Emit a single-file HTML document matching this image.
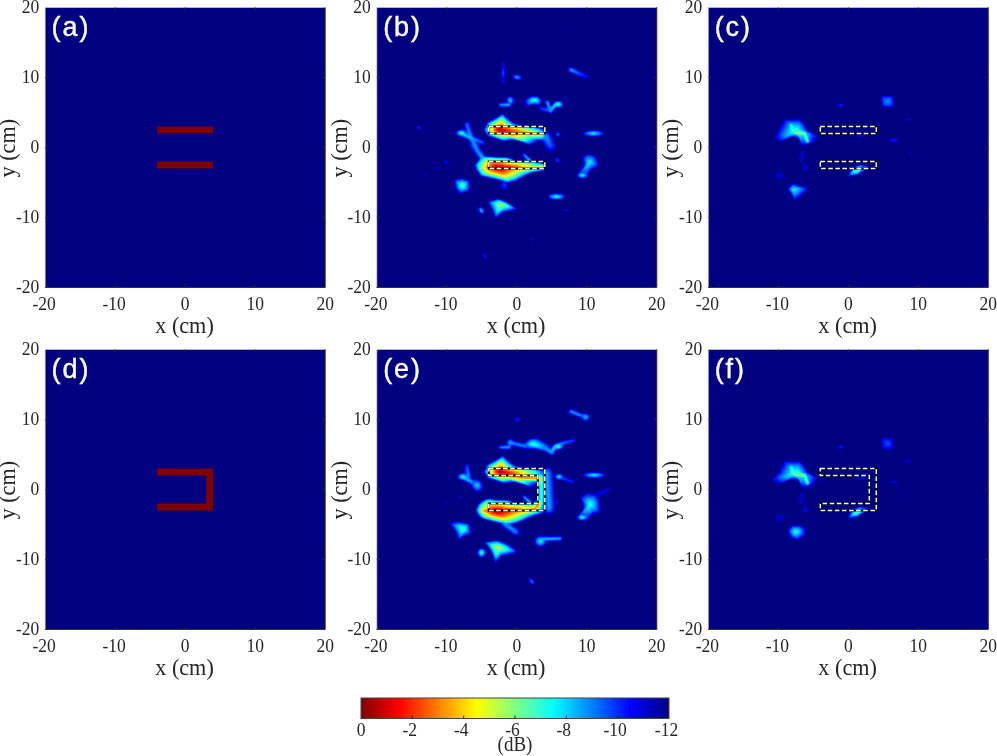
<!DOCTYPE html>
<html lang="en"><head><meta charset="utf-8"><title>Figure</title>
<style>html,body{margin:0;padding:0;background:#fff;}svg{display:block;}.t{font-family:"Liberation Serif",serif;font-size:17.5px;fill:#262626;}.l{font-family:"Liberation Serif",serif;font-size:22.2px;fill:#262626;}.p{font-family:"Liberation Sans",sans-serif;font-size:27px;letter-spacing:1.9px;fill:#fff;stroke:#fff;stroke-width:0.4px;}</style></head><body>
<svg width="997" height="756" viewBox="0 0 997 756">
<defs><linearGradient id="cb" x1="0" x2="1" y1="0" y2="0"><stop offset="0" stop-color="#800000"/><stop offset="0.125" stop-color="#ff0000"/><stop offset="0.375" stop-color="#ffff00"/><stop offset="0.5" stop-color="#80ff80"/><stop offset="0.625" stop-color="#00ffff"/><stop offset="0.875" stop-color="#0000ff"/><stop offset="1" stop-color="#000080"/></linearGradient></defs>
<rect width="997" height="756" fill="#fff"/>
<g>
<rect x="45.2" y="7.5" width="280" height="280" fill="#000080"/>
<path d="M157.2 126.5h56v7h-56zM157.2 161.5h56v7h-56z" fill="#800000"/>
<path d="M45.2 287.5v-280.0h280.0" fill="none" stroke="#d8d8d0" stroke-width="0.6"/>
<path d="M44.9 287.5h280.3v-280.3" fill="none" stroke="#2a2a30" stroke-width="0.9"/>
<path d="M115.2 287.5v-3M115.2 7.5v3M45.2 217.5h3M325.2 217.5h-3M185.2 287.5v-3M185.2 7.5v3M45.2 147.5h3M325.2 147.5h-3M255.2 287.5v-3M255.2 7.5v3M45.2 77.5h3M325.2 77.5h-3" stroke="#262626" stroke-width="1" fill="none"/>
<text class="t" transform="translate(44.2 309.5) scale(1.000 1.100)" text-anchor="middle">-20</text>
<text class="t" transform="translate(39.2 292.7) scale(1.000 1.100)" text-anchor="end">-20</text>
<text class="t" transform="translate(114.2 309.5) scale(1.000 1.100)" text-anchor="middle">-10</text>
<text class="t" transform="translate(39.2 222.7) scale(1.000 1.100)" text-anchor="end">-10</text>
<text class="t" transform="translate(185.2 309.5) scale(1.000 1.100)" text-anchor="middle">0</text>
<text class="t" transform="translate(39.2 152.7) scale(1.000 1.100)" text-anchor="end">0</text>
<text class="t" transform="translate(255.2 309.5) scale(1.000 1.100)" text-anchor="middle">10</text>
<text class="t" transform="translate(39.2 82.7) scale(1.000 1.100)" text-anchor="end">10</text>
<text class="t" transform="translate(325.2 309.5) scale(1.000 1.100)" text-anchor="middle">20</text>
<text class="t" transform="translate(39.2 12.7) scale(1.000 1.100)" text-anchor="end">20</text>
<text class="l" transform="translate(184.5 332.7) scale(1.000 1.060)" text-anchor="middle">x (cm)</text>
<text class="l" transform="translate(15.2 148.2) rotate(-90) scale(1.000 1.060)" text-anchor="middle">y (cm)</text>
<text class="p" transform="translate(51.6 36.4)" text-anchor="start">(a)</text>
</g>
<g>
<rect x="376.8" y="7.5" width="280" height="280" fill="#000080"/>
<g fill-rule="evenodd"><path fill="#0000bd" d="M571.4 28.5l0.1-0.5 0.8-0.5 1 0.4 0.2 0.6 -0.4 0.5 -0.8 0.3zM508.8 48.9l1 0.3 0.3 0.8 -0.8 1.1 -1-0.2 -0.4-0.9 0.4-0.9zM503.3 62.1l1.1 0.4 0.8 1.5 0.5 9 -0.5 9 -0.8 1.5 -1.1 0.4 -1-0.2 -0.7-0.7 -0.8-3.1 -2.5-0.4 -0.9-1 0.9-1 2.5-0.6 0.4-12.9 0.6-1.3zM568 68.5l0.8-1.1 1.5-0.8 1.5 0 15.5 7.4 1.3 1.5 0 2 -1.3 1.4 -2 0.3 -16-6.6 -1-0.9 -0.5-1.7zM511.9 76l0.6-1 1.3-0.8 2-0.4 1.5 0 2 0.6 1.5 0.8 1.3 1.3 0.3 1.5 -0.6 1.2 -1.5 1 -2 0.4 -2.5-0.2 -1.5-0.6 -1.7-1.3 -0.6-1zM535 84.5l0.8-0.6 0.7 0.1 0.5 0.5 -0.2 0.6 -1 0.2 -0.7-0.3zM513.9 97.5l0.8 2 -0.3 2.5 -0.8 1.5 -1.5 1.5 -0.7 1.5 -1.1 1 -2 0.4 -7.5-0.3 -1.5-0.3 -1.2-1.3 -0.2-2 1.4-1.6 1.5-0.4 4.2 0 0.8-0.4 0.1-2.1 0.6-1.5 1.8-2 1.5-0.5 1.5 0.1 1.5 0.7zM523.9 101l0.9-1.4 5-3.5 7.5-0.5 1.5 0.7 3.1 3.7 -1.2 5.5 0.4 0.5 3.7 0.7 0.6-0.2 -1.1-3.5 0.1-1.5 0.9-1.4 1.5-0.7 1.5 0.2 1 0.7 2 3.5 0.5 0.1 2-2.1 1.5-1 3.5-0.7 2 0.5 1.6 0.9 1.2 1.5 0.2 1.5 -0.2 1 -1.3 1.7 -2.5 1.1 -3.5 0.4 -2 2.2 -1.2 2.1 -1.3 0.8 -1 0.1 -11-3.4 -1.1-1.5 0-1 0.6-1.5 -0.5-0.5 -5.5-1.1 -5 1.8 -1.5 0 -1.1-1.7zM562.7 98.5l0.6-1 1.5-0.4 1.8 0.4 0.7 1 -0.7 1 -1.8 0.4 -1.5-0.4zM483.5 129l3-6 0.8-1 8.3-4.5 5.7-3.8 1.5-0.5 1 0.5 6 5.8 5 3.5 1.9 1 23.6 3.3 5 1.2 1.7 2 2.8 2.1 1.2 1.4 4.7 10 0.4 2 -0.2 1.5 -1.1 2.1 -2 1.5 -2 0.5 -2.5-0.4 -2.2-1.7 -4.4-8 -1.4-0.7 -1.3 0.2 -7.2 4.4 -1 0.3 -4.5-1.4 -5.6-2.3 -5.9-1.2 -3-0.1 -5.5 0.9 -3.5 0.1 -15.5-5.3 -1-0.9 -2.3-4 -0.6-1.5zM455.6 132l1.2-1.7 2-1.1 2-0.4 3 0.1 0.5-0.4 -0.8-4 0.6-2 1.7-1.3 2.5 0 1.2 0.8 0.9 1.5 4 12 9.4 4.2 1.4 1.3 0.3 2 -0.3 1 -0.9 1 -1.5 0.6 -2.5-0.4 -0.6 0.3 2.6 5.1 4 5.2 6 0.3 2 0.4 14 0.2 7.5 3.2 9.5 0.6 0.3-0.5 -3.3-3.5 -0.7-1.5 0.1-1 0.6-1 1-0.6 1-0.1 2 1.1 7.5 7.3 5 0.4 6 2.3 1.4 2.1 0.3 1.5 -0.1 1.5 -1.6 1.9 -1.5 0.8 -8.9 1.3 -9.2 4 -7.4 4.2 -8.6 2.8 -0.5 0.5 -0.3 3 -1.1 1.9 -2 1.1 -2.5-0.3 -1.5-1.3 -0.9-1.9 0-2 1-2.5 -0.4-0.5 -8.8-2.5 -10.9-2.2 -1.4-0.8 -4.3-6 -1.4-4.5 0.2-1 3.4-4.5 0.4-1 -8.5-12 -0.6-1.5 0.3-2.5 -0.6-1.4 -2-1.6 -5.2-2.5 -2.8-0.7 -1.5-0.8 -1.7-2zM415.6 127l0.2-0.6 1-0.7 2.5 0 2.1 1.3 0.4 1.5 -0.5 0.7 -1 0.4 -2 0 -2-1.1zM582.4 133.5l0.9-1.6 2.5-1.2 3-0.6 4.5-0.3 5 0.3 3 0.6 2.5 1.3 0.8 1.5 -1.1 1.5 -2.7 1.2 -3.5 0.7 -4 0.2 -3.5-0.2 -3.5-0.7 -2.8-1.2zM555 133l1.8-1.3 2.5 0.2 1.5 1.6 0.2 1 -0.3 1 -0.8 1 -1.1 0.6 -1.5 0.1 -1-0.3 -1.1-0.9 -0.5-1zM571.3 139.5l0.5-0.2 0.8 0.2 0.4 0.5 -0.2 1 -1 0.3 -0.5-0.2 -0.3-0.6zM594.3 154.7l1.2 1.3 4 8.5 -0.1 1.5 -7.1 3.9 -2.5 1.8 -1.1 1.8 -0.5 3 -1.9 1.8 -2 0.6 -2.5 0.2 -2-0.4 -2-1.1 -1.3-1.6 0.1-1.5 6.8-8.5 -0.1-3.5 -1.3-5 0.3-0.9 4.5-2.9 1-0.3zM554.5 158l0.8-0.6 1.5-0.1 2.5 1.2 1.4 2 0.1 1 -0.5 1 -1 0.6 -1 0 -2.5-1.1 -1.5-2 -0.1-1zM444.3 160.5l1.5-0.6 1.5 0.3 1 1.3 -0.2 1.5 -0.8 0.8 -1 0.3 -1.5-0.3 -1.1-1.3 0-1zM432.5 168.5l1.3-0.9 2.5-0.3 2.5 0.3 1.3 0.9 -1.3 0.9 -2.5 0.3 -2.5-0.3zM424.8 174.3l1-0.3 1 0.7 0.2 0.8 -0.7 1.1 -1 0.2 -0.9-0.8 -0.1-1zM454.3 179.5l1-0.5 6.5-1.3 5.5 1.6 2.5 1.1 0.4 1.1 0 3 -0.5 2.5 0 3.5 -0.4 0.9 -7.5 2.4 -1.5 0.1 -1-0.5 -3.4-3.4 -0.5-1 -1.4-8zM547.2 196.5l0.8-1.5 2.3-1.3 3-0.7 3-0.2 3.5 0.2 3 0.7 2.2 1.3 0.8 1.5 -0.6 1.5 -1.9 1.3 -3.5 0.9 -3.5 0.3 -3.5-0.3 -3-0.9 -2-1.3zM487.4 202l1.9-1.2 8-2.5 1.5-0.1 9.5 4 8 5.5 1.1 1.3 -0.1 0.5 -4 1.3 -9.5 1.8 -7.5 5.8 -1 0.3 -1.2-1.7 -2.3-6.8 -4.3-7.2zM479.3 206.5l1-0.2 1.5 0.4 1.1 0.8 1.2 1.5 0.8 3 -0.4 1.5 -0.7 0.8 -1 0.4 -1.5-0.3 -1.5-1 -1.1-1.4 -0.7-2 -0.1-1.5 0.4-1zM563.5 209.5l0.8-0.7 1.5-0.1 1.7 0.8 0.5 1 -0.7 0.9 -2 0.2 -1.5-0.8 -0.4-0.8zM530.3 237.6l1.5 0.1 1.4 1.3 0.6 1.5 -0.5 0.8 -1.5-0.2 -1.3-1.1 -0.7-1.5zM481.5 253l0.8-0.5 1 0.2 2.5 1.6 1.8 2.7 -0.2 1.5 -0.6 0.4 -1-0.1 -2.5-1.6 -1.6-2.2 -0.3-1z"/><path fill="#0000e6" d="M503.3 63l1 1 0.9 9 -0.9 9 -1 1 -1-0.5 -1-9.5 1-9.5zM568.5 68.5l0.8-0.9 1-0.5 1-0.1 1.5 0.5 13.7 7 1.1 1 0.2 1.5 -1 1.2 -2 0 -14.5-5.6 -1-0.6 -0.8-1 -0.3-1.5zM512.4 76.5l0.5-1 0.9-0.7 1.5-0.5 2 0 2 0.6 1.5 0.9 0.9 1.2 0.1 1 -0.5 1 -1 0.7 -1.5 0.4 -2-0.1 -3-1.1 -1-1zM513.6 98l0.6 2 -0.3 2 -3.7 5 -1.9 0.4 -7.5-0.3 -1.5-0.4 -0.7-0.7 -0.3-1.5 1-1.6 1.5-0.4 4.5-0.1 1-0.3 0.5-3.6 1-1.5 1-0.7 2.5-0.2 1.5 0.9zM524.7 100.5l5.6-4.1 7-0.3 1 0.4 2.8 3 0.3 1 -0.9 4 -0.7 0.9 -6.5-1 -5.5 1.8 -0.7-0.2 -0.7-1 -1.7-3.5zM563.7 98.5l1.1-0.7 1 0.2 0.5 0.5 -0.5 0.5 -1 0.2zM539.3 109l0-1 1-1.2 5 0.6 0.8-0.4 -1.3-5 0.7-1.5 1.3-0.6 1 0 1 0.6 2.5 4.1 1-0.4 2.5-2.7 3-0.9 2 0.1 1.5 0.6 1.4 1.2 0.5 1 -0.1 2 -1.3 1.5 -2 0.9 -3.5 0.2 -2.3 2.4 -1.2 2.2 -1.5 0.7 -10.5-3 -1-0.6zM484 129l2.7-5.5 1.1-1.4 8.5-4.6 5.5-3.6 1-0.2 1 0.6 5.5 5.4 6.5 4.4 24.5 3.6 4.5 1.2 1.8 2.1 2.7 2 1.3 1.5 4.2 9.5 0.4 1.5 -0.1 1.5 -0.8 1.8 -1.5 1.3 -2 0.6 -2-0.3 -1.5-0.9 -0.8-1 -4.5-7.5 -1.7-0.7 -2.5 0.7 -7 4 -4-0.9 -6.7-2.6 -5.3-1.2 -3-0.1 -5.5 1 -3.5 0 -15.5-5.3 -3.1-4.9 -0.3-1zM456.1 132l1.2-1.5 2-1 5.5-0.2 0.1-0.8 -0.8-3.5 0.2-1.6 1.5-1.5 1-0.3 1.5 0.3 1 0.8 0.7 1.3 3.8 11.6 1.1 0.9 8.4 3.6 1.4 1.4 0.2 1.5 -1.1 1.6 -1.5 0.3 -3-0.6 -0.4 0.2 -0.1 0.5 2.8 5.5 4.1 5.5 9.1 0.8 13.5 0.3 7 3.1 10.6 0.8 0.7-0.5 -3.7-4 -0.8-1.5 0.4-1.5 0.8-0.6 1-0.1 2 1.2 7.2 7 4.8 0.4 6.5 2.5 1.2 2.1 0 2.5 -1.3 1.5 -1.4 0.8 -9.5 1.5 -8.5 3.7 -8.5 4.7 -8.5 2.6 -0.6 0.7 0.1 2 -0.8 2 -1.7 1.1 -2-0.1 -1.5-1.3 -0.6-1.7 0.1-1.7 1-1.8 -0.4-1 -8.1-2.5 -12.5-2.6 -1.3-0.9 -3.9-5.5 -1.4-4.5 0.9-2 3-4 0-1 -8.5-12 -0.4-1.5 0.3-2 -1.2-2.2 -1-0.8 -6-2.9 -3-0.8 -1.5-0.8 -1.2-1.5zM416.4 127l0.9-0.8 1.5-0.1 1.8 0.9 0.5 1 -0.8 1 -1.5 0.1 -2-0.9zM583.2 133.5l0.6-1.2 2.5-1.2 3.5-0.7 3.5-0.2 4 0.2 3.5 0.7 2.5 1.3 0.5 1.1 -1 1.3 -2.5 1 -3.5 0.7 -3.5 0.1 -3.5-0.2 -3.5-0.7 -2.5-1.2zM555.7 133l1.6-0.9 2 0.4 1.1 1.5 -0.3 1.5 -0.8 0.8 -1 0.4 -2-0.4 -0.8-0.8 -0.3-1zM594.3 155.4l1 1.6 3.3 7 0.2 1.5 -9 5.3 -1.7 2.7 -0.5 3 -1.3 1.2 -1.5 0.7 -2.5 0.3 -2.5-0.5 -1.5-0.8 -1.2-1.4 0.1-1.5 6.7-8.5 -0.1-3.5 -1.1-4.5 0.1-1 5-3zM555.1 158.5l0.7-0.5 1-0.1 2 0.9 1.3 1.7 -0.3 1.5 -1.5 0.5 -2-0.8 -1.3-1.7zM444.5 161.5l0.8-0.8 1-0.2 1 0.6 0.2 1.4 -0.7 0.8 -1.5 0 -0.8-0.8zM425.3 175.5l0.5-0.3 0.1 0.3zM454.7 180l1.1-0.6 6-1.1 7.3 2.2 0.5 1 0.1 2.5 -0.5 6 -0.4 1 -7 2.2 -1.5 0.1 -0.6-0.3 -3.8-4 -1.3-8zM547.9 196.5l0.4-1 2-1.3 3-0.8 3-0.2 3.5 0.2 2.5 0.7 2 1 0.8 1.4 -0.7 1.5 -2.1 1.2 -3 0.7 -3 0.2 -3.5-0.4 -2.5-0.7 -1.7-1zM488 202.5l0.3-0.7 1.5-0.7 7.5-2.3 1.5-0.2 9 3.7 7 4.9 1.7 1.8 -0.7 0.5 -12.5 2.7 -7 5.5 -1 0.2 -0.6-0.9 -2.4-6.9zM479.3 207.1l1-0.3 1 0.2 1 0.5 1.3 1.5 0.7 1.5 0.1 1.5 -0.5 1.5 -0.6 0.5 -1 0.2 -1-0.3 -2.1-1.9 -0.7-1.5 -0.2-1.5 0.3-1zM564.1 210l0.7-0.7 1 0 1 0.4 0.4 0.8 -0.5 0.5 -0.9 0.1 -1-0.3zM531 238.5l1.3 0.5 0.5 1 -0.5 0.4 -0.8-0.4 -0.7-1zM482.5 253.5l1.3 0.1 2 1.6 1 1.8 0 0.5 -0.5 0.5 -1.5-0.4 -1.5-1.3 -1.1-1.8z"/><path fill="#000fff" d="M568.8 68.9l0.6-0.9 0.9-0.5 2 0.2 10.9 5.8 2.9 2 0.5 1 -0.8 0.7 -2.5-0.4 -12.5-4.4 -1.9-1.4 -0.3-1zM503.3 68.1l1 1.7 0.4 3.2 -0.4 3.2 -1 1.7 -0.5-0.2 -0.5-0.9 -0.6-3.8 0.6-3.7zM513 76.5l0.6-1 0.9-0.5 1.8-0.3 1.5 0.1 2.5 1.2 0.8 1 0.1 1 -0.7 1 -1.1 0.5 -3.1 0 -2.5-1.2 -0.6-0.8zM513.3 98.4l0.5 1.6 -0.4 2 -2.1 2.5 -0.6 1.5 -0.9 0.8 -1.5 0.3 -7.5-0.4 -1-0.2 -1-1 0.1-1.5 0.9-0.9 6.9-0.6 0.3-3.5 0.8-1.4 1-0.8 1-0.3 1.5 0.1 1 0.6zM525.3 101l0.6-1 3.9-2.9 2.5-0.6 5.5 0.1 2.8 2.9 0.4 1 -0.9 3.5 -0.8 0.9 -6-0.8 -5 1.5 -1.2-0.6zM539.9 108.5l0.4-0.9 0.5-0.2 5 0.5 0.8-0.4 0-1 -1.5-4 0.5-1.5 1.2-0.7 1 0 1 0.7 1.8 3.5 0.7 0.7 1-0.5 2.5-2.8 3-1 2 0.2 1.5 0.6 1 0.9 0.6 1.4 -0.3 1.5 -0.8 1 -2 1 -3 0.1 -1 0.4 -2.2 2.5 -1.2 2 -1.1 0.5 -10-3 -1-0.6zM484.2 129.5l3.7-7 8.3-4.5 5.6-3.7 1-0.2 6.4 5.9 6.6 4.4 24 3.5 4.5 1.4 1.9 2.2 2.7 2 1.2 1.5 3.8 9.5 0.2 2.5 -0.9 1.5 -1.4 1 -1.5 0.2 -1.5-0.4 -1.5-1.4 -4.4-6.9 -2.1-0.9 -1.5-0.1 -1.8 0.5 -6.2 3.6 -1.5 0.4 -3-0.7 -7.6-2.8 -4.6-1 -3.3-0.1 -5 0.9 -3.5 0.1 -15-5.1 -0.8-0.8 -2.2-3.6zM456.6 132l1.2-1.4 2-0.9 2-0.1 3.6 0.4 0.2-1 -0.9-5 1.1-1.5 1-0.3 1 0.1 1 0.7 0.6 1 4.1 12 1.3 0.9 8 3.6 1.2 1 0.2 1.5 -0.9 1.1 -1.5 0.2 -3.6-0.8 -0.3 0.5 3.1 6.5 4.3 5.6 1 0.4 5.5 0.1 2.5 0.5 13.5 0.2 7.5 3.1 11 0.9 0.9-0.3 -0.1-0.5 -3.8-4.1 -0.8-1.4 0.3-1.2 0.5-0.4 1-0.2 2 1.3 7 6.7 5 0.6 6 2.1 1.4 2.1 0.2 1.5 -0.3 1 -1.3 1.5 -1 0.5 -9.6 1.5 -8.1 3.5 -8.8 4.7 -7 2.3 -2.8 0.5 -0.5 0.5 0.4 2 -0.4 1.5 -1.2 1.1 -1.5 0 -1.3-1.1 -0.4-1.5 0.4-1.5 1.3-1.5 -1.9-1.5 -7.6-2.2 -13-2.8 -0.8-0.5 -4.2-6 -1.2-4 0.9-2 3-4 0.1-1 -8.3-12 -0.4-1.5 0.1-2 -1.4-2.5 -1.3-1 -5.5-2.6 -3-0.8 -1.5-0.7 -1.2-1.4 -0.2-1zM417.3 127l1-0.3 1 0.2 0.8 0.6 0.1 0.5 -0.6 0.5 -1.3-0.1 -1-0.8zM584 133.5l0.5-1 2-1 2.8-0.7 4-0.2 4 0.2 3 0.6 2.2 1.1 0.5 1 -0.7 1 -2.4 1 -3.1 0.6 -3.5 0.2 -6.2-0.8 -2.3-1zM555.9 133.5l1.4-0.9 1.5 0.1 1 1.1 0 1.2 -1 1.1 -1 0.2 -1-0.2 -1-1.1zM593.8 155.8l1 1.3 3.2 6.9 0.1 1 -0.3 0.5 -6 3.1 -2 1.4 -2.2 3.5 -0.2 2.5 -1.5 1.5 -1.6 0.6 -2 0.2 -2-0.3 -1.5-0.7 -1.2-1.3 0-1.5 6.2-7.6 0.6-1.4 -0.1-3 -1-5 1.1-1 3.4-1.8zM555.7 159l1.1-0.5 1.5 0.5 1.1 1.5 -0.1 1 -1 0.4 -1.5-0.5 -1-1zM445.4 161.5l1.2 0 0.2 0.5 -0.2 0.5 -1.2 0 -0.2-0.5zM455.3 180.2l2-0.7 4.5-0.8 7 2.2 0.4 1.1 0 2.5 -0.7 6 -0.7 0.5 -7 1.8 -1-0.3 -3-3 -0.5-0.9 -1.2-7.6zM548.5 196.5l0.5-1 1.8-1.1 2.5-0.6 3-0.3 3 0.2 2.5 0.6 2 1.1 0.7 1.1 -0.3 1 -1.9 1.2 -3 0.8 -3 0.2 -3-0.3 -2.5-0.6 -2-1.3zM488.6 202.5l0.2-0.5 1.5-0.7 7-2.2 1.5-0.1 9 3.7 6.8 4.8 1 1 -0.1 0.5 -2.7 0.9 -9.5 1.9 -6 4.7 -1.5 0.8 -0.8-0.8 -2.5-7zM479.5 207.5l0.8-0.3 1 0.2 1.9 1.6 0.9 2.5 -0.1 1 -0.7 1 -1 0.3 -1-0.3 -1.7-1.5 -0.9-2.5 0.1-1zM565.3 210l0.6 0 -0.1 0.3zM483.3 255l0.5-0.5 1.4 1 0.5 1 -0.4 0.4 -0.9-0.4z"/><path fill="#0038ff" d="M569.2 69l1.1-1 2 0.1 7.9 4.4 3.1 2.5 -0.5 0.5 -3-0.5 -9-3.1 -1.5-1.1zM503.3 70l0.6 1 0.3 2 -0.3 2 -0.6 1 -0.5-0.3 -0.6-2.7 0.6-2.7zM513.7 76.5l0.6-0.8 1-0.5 2.5 0.1 2.3 1.2 0.4 1.5 -0.7 0.8 -1 0.4 -2.5-0.1 -2.1-1.1zM512.9 98.5l0.4 1.5 -0.2 1.5 -0.5 1 -1.6 1.5 -0.4 1.5 -0.8 0.9 -1.5 0.4 -7-0.4 -1.5-0.4 -0.5-0.5 0-1.4 1-0.8 5.5-0.1 1.5-0.5 0.2-0.7 -0.1-2.5 0.4-1.1 1-1 1-0.4 1.1 0 1.1 0.5zM526.1 101l0.6-1 4.1-2.9 1.5-0.3 5 0 2.4 2.2 0.8 1.5 -0.7 3 -1 1 -5-0.8 -5 1.3 -1.1-0.5zM540.8 108.5l1-0.5 4.5 0.5 0.9-0.5 -0.2-1.5 -1.5-4 0.3-1.1 1-0.7 1 0.1 0.9 0.7 1.7 3.5 0.9 0.8 1-0.6 2.5-2.9 2.5-1 2 0 1.5 0.5 1.3 1.2 0.4 1 -0.3 1.5 -1.4 1.3 -1.5 0.5 -2.5 0 -1 0.3 -2.3 2.4 -1.2 2.1 -1 0.5 -1 0 -9-3.4zM484.6 129.5l2.7-5.6 1-1.3 8-4.3 5.5-3.6 1-0.2 6 5.6 6.6 4.4 23.9 3.6 4.1 1.4 2.4 2.7 2.5 1.8 1 1.2 2.7 7.3 0.8 2.9 0 1.1 -0.5 1 -1 0.7 -1 0.1 -1-0.3 -1.5-1.6 -3.9-5.4 -1.1-0.7 -2-0.5 -4 0.3 -6 3.5 -1.5 0.4 -2.5-0.5 -8-2.8 -4.5-1 -3-0.1 -5.5 0.9 -3 0.1 -14.8-5.1 -3-4.5zM457.1 132l1.6-1.5 2.1-0.6 2 0.1 3.5 1.1 0-1.6 -1-5 0.4-1 0.6-0.5 1.4 0 1.1 1.2 3.7 10.8 0.8 1.5 9 4.5 1.1 1 0 1 -0.6 0.5 -1 0.1 -4-1 -1 0.4 0.1 0.5 3.7 7.5 4 5 0.7 0.5 9.5 0.8 13 0.3 7.5 3.1 11.5 0.8 0.9-0.5 -0.2-0.5 -4-4.5 -0.5-1 0.2-1 1.1-0.3 2 1.3 7 6.5 5 0.6 6 2.1 1.1 1.8 0.1 2 -1 1.5 -1.2 0.8 -10.5 1.7 -7.5 3.2 -9 4.8 -8 2.4 -2.5-0.3 -4.5-1.7 -7-1.9 -13-2.8 -0.8-0.7 -3.7-5.3 -1.4-4.2 0.9-1.9 3.1-4.1 0.2-1 -8-12 -0.5-1 0-2.5 -1.8-3 -1-0.7 -6-2.8 -3-0.7 -1.4-0.8 -1-1.5zM585 133.5l0.6-1 2.2-1 5.5-0.6 5.7 0.6 2.4 1 0.6 1 -0.9 1 -1.8 0.7 -6 0.7 -6-0.8 -1.4-0.6zM556.3 134l0.5-0.7 1-0.3 1.2 0.5 0.4 1 -0.6 1 -1.5 0.2 -0.9-0.7zM593.3 156.4l1 1.2 2.5 5.4 0.5 1.5 -0.2 0.5 -5.3 2.8 -2 1.4 -2.5 3.8 -0.4 3 -1.1 1.1 -1.5 0.7 -2 0.2 -2-0.4 -1.3-0.6 -0.9-1 0-1.5 6-7.5 0.7-1.5 0.2-2 -1-5 0.3-1 3-1.9 1-0.3zM556.6 159.5l1.2 0 0.5 0.5 0 1 -0.8 0 -0.7-0.4zM455.9 180.5l5.9-1.3 6.5 2 0.4 0.8 0 2 -0.6 6 -0.8 0.6 -6.5 1.6 -1-0.4 -3-3.3 -1.2-7zM503.8 184.5l1-0.2 0.5 0.3 0.4 0.9 -0.5 1 -0.9 0.2 -0.5-0.2 -0.5-1zM549.2 196.5l0.6-1 2-1 4.5-0.6 4.9 0.6 2 1 0.6 1 -0.4 1 -1.6 1 -2.5 0.6 -3 0.3 -5.1-0.9 -1.6-1zM489.2 202.5l1.6-1 7-2.2 1.5 0.1 8 3.4 5.5 3.7 2 2 -0.5 0.5 -11 2.3 -6 4.7 -1.5 0.5 -0.5-0.6 -2.2-6.4 -3.6-6zM479.8 207.8l1.5 0 1.8 1.7 0.6 2.5 -0.9 1.3 -1.5-0.2 -1.6-1.6 -0.6-2 0.1-1z"/><path fill="#0061ff" d="M569.7 69l1.1-0.7 1.5 0.4 4.9 2.8 2.2 2 -2.1 0 -6.5-2.1 -1.1-0.9zM514.5 76.5l1.3-0.8 1.5-0.1 2 0.9 0.5 1 -1 1.1 -2 0.2 -1.7-0.8 -0.5-0.5zM512.5 99l0.3 1 -0.2 1.5 -0.7 1 -1.5 1 -0.2 2 -0.9 0.8 -8-0.3 -1.5-0.6 -0.2-0.9 0.7-0.7 6.5-0.3 1.5-0.5 -0.5-3.1 0.5-1.3 1-0.9 1-0.2 1 0.2zM527.3 100.5l2-1.9 2-1.2 5-0.3 1.5 0.5 1.7 1.9 0.4 1 -0.5 2.5 -0.6 0.8 -1 0.1 -4-0.6 -4.5 1.1 -1.1-0.9 -0.9-2zM544.5 109.5l2.8-0.4 0.7-0.6 -2.1-6 0.4-1 0.5-0.3 1 0 0.5 0.4 2 4.1 1 0.7 1-0.7 2.5-3 2-0.9 1.5-0.2 1.5 0.2 1.4 0.7 0.7 1 0.1 1.5 -0.7 1 -2 0.9 -3.5 0.3 -4.5 5 -1-0.1zM485.1 129.5l3.2-6.5 8-4.3 5.5-3.6 1-0.1 5.9 5.5 6.1 4.1 2 0.5 22.9 3.4 2.6 1.1 2 1.8 1.5 2.1 2 1.3 0.9 1.2 1.9 6.5 0.4 3.5 -0.7 0.5 -0.5-0.2 -5-5.9 -2-0.8 -4-0.2 -3 0.4 -5.5 3.2 -1.5 0.5 -2-0.3 -8-2.7 -5-1.1 -2.5-0.1 -5.5 0.9 -3.5-0.1 -14-4.8 -2.9-4.3zM457.4 132.5l1.4-1.6 3-0.7 2.5 0.7 2 1.9 1 0.3 0.2-1.1 -1.4-7 0.2-0.8 0.5-0.4 1 0.3 4.8 12.4 0.7 0.7 6.4 3.3 2.1 1.5 -1 0.3 -4.5-0.7 -0.5 0.1 -0.1 0.8 3.8 8 4.4 5.5 0.9 0.6 1.5 0.4 5.5 0.1 3 0.4 12.5 0.3 8 3 11.5 0.9 1-0.2 0.3-0.5 -4.4-5.5 -0.1-1 0.7-0.3 2 1.3 7 6.2 4.5 0.6 6 1.9 1.4 1.8 0.1 2 -1 1.4 -1 0.6 -11 1.9 -8 3.4 -8 4.2 -7.9 2.5 -2.1-0.3 -12-3.4 -12.6-2.8 -0.9-0.7 -3.4-4.8 -1.6-4.5 1-2 3.1-4 0.2-1.5 -7.8-11.9 -0.3-2.6 -2-3.5 -1.2-0.9 -6.5-2.9 -3.7-1.2 -1-1zM586.2 133.5l0.6-1 1.1-0.5 5.4-0.8 3.5 0.3 2.3 0.5 1.1 0.5 0.6 1 -1 1 -1.4 0.5 -5.1 0.6 -4.7-0.6 -1.4-0.5zM557 134.5l0.1-0.5 0.7-0.3 0.7 0.3 0.1 0.5 -0.8 0.6zM592.8 157.1l1 1.3 2.1 4.6 0.1 1.5 -5.2 2.9 -1.5 1.4 -2 3 -1.5 1.2 0.7 2 -0.2 1 -0.5 0.6 -1.5 0.8 -1.5 0.2 -3.1-0.6 -1-1 0-1.5 2.1-1.8 2.1-0.7 -1-1 0-0.5 2.6-3.5 0.9-2 0.2-1.5 -0.7-5 1.1-1 2.3-1.2zM456.5 181l5.3-1.2 5.9 1.7 0.4 1 -0.5 7 -0.8 0.6 -5 1.4 -1 0 -0.9-0.5 -2.1-2 -0.5-1 -1-5.5zM550.1 196.5l0.7-1 1-0.6 4.5-0.7 4.5 0.6 1.4 0.7 0.7 1 -0.4 1 -1.7 0.9 -4.5 0.6 -4.5-0.8 -1.3-0.7zM490.1 202.5l1.9-1 4.8-1.5 2.5-0.3 7.8 3.3 5.2 3.5 1.6 1.5 -0.1 0.4 -1.5 0.6 -9 1.8 -6 4.6 -1 0.4 -0.7-0.8 -1.9-5.5 -3.4-6zM480.3 208.1l1.5 0.4 1 1.1 0.6 1.9 -0.6 1.2 -1.5 0 -1.5-1.6 -0.3-2.1z"/><path fill="#008aff" d="M570.2 69.5l0.6-0.6 1 0.1 2.4 1.5 1.1 1.1 -1 0.2 -3.1-0.8 -0.8-0.5zM515.4 77l0.4-0.6 1.5-0.2 1 0.4 0.5 0.9 -0.5 0.5 -1.5 0.2 -1-0.5zM528.3 100.5l1-1.1 2.5-1.6 4-0.3 1.8 0.5 1.3 1.5 0.4 1 -0.5 2 -0.5 0.7 -4.5-0.3 -3.5 0.8 -1.1-0.7 -0.8-1.5zM509.8 98.2l1.5 0.2 0.9 1.6 -0.4 1.7 -1.5 0.8 -1.3-0.5 -0.6-1.5 0.3-1.5zM546.5 102.5l0.3-0.7 0.5-0.1 0.6 0.3 2.2 4.5 0.7 0.7 1-0.3 3.1-3.9 2.4-1 1.5-0.1 1.7 0.6 0.9 1 0.2 1 -0.4 1 -1.4 0.9 -4 0.4 -2.9 2.7 -1.5 2 -0.6 0.2 -2.2-1.2 0.1-2zM500.4 105l0.1-0.5 0.8-0.3 7.5-0.4 0.6 0.2 0.5 1 -0.6 0.8 -1 0.2 -6.9-0.5zM485.5 129.5l2.3-4.9 1.1-1.6 6.9-3.6 6.5-4 1 0.5 5 4.8 6 4 2 0.6 19.1 2.7 4.5 1 3.8 2.5 2.1 3.5 1.6 1 0.9 2.5 0.5 3 -0.5 0.6 -4-3.8 -2.5 0.8 -7 0.3 -5.5 3.2 -1.5 0.4 -9-2.7 -5.5-1.3 -3 0 -4.5 0.8 -3 0.1 -14.3-4.9 -2.6-4zM458 132.5l1.5-1.5 2.8-0.3 2.1 0.8 1.9 2.2 1 0.5 1 0 0.2-1.2 -0.7-4.5 0.2-0.5 0.3 0 3.9 9 4.4 3 -1.9 0.5 -0.3 1 3.7 8.5 5 6 1.2 0.8 2 0.4 5.5 0.1 3 0.5 12.5 0.2 7.5 3 12 0.9 1.5-0.4 0.3-0.5 -4.1-5.5 0.3-0.3 4 2.8 4 3.7 4.5 0.8 6.5 1.9 1.1 1.6 0.1 2 -0.7 1.1 -1.5 0.9 -8.5 1.1 -3 0.8 -8 3.4 -7.5 3.9 -7.5 2.4 -1.5-0.1 -8-2.4 -17-4 -3.9-5.1 -1.6-4.5 0.6-1.5 3.9-5 0-1 -6-9.9 -2.1-5.1 -2.9-4 -7-3.1 -3.5-1 -1.1-0.9zM587.6 133.5l0.2-0.5 1.5-0.8 4-0.6 4 0.4 1.3 0.5 0.8 1 -0.3 0.5 -1.8 0.7 -4 0.5 -4-0.6 -1.4-0.6zM592 158l0.8 0.7 2 4.3 0 1 -4.5 2.6 -3 3.5 -1.5 0.1 -2-0.6 0-1.1 1.1-1.5 1.3-3 -0.2-5 2.3-1.5zM579.2 175l1.1-1.3 2.5-0.6 2.5 0.9 0.6 1.5 -1.1 1.2 -2.5 0.6 -2.5-0.8 -0.5-0.6zM457.2 181.5l4.6-1.1 5.3 1.6 0.4 1 0 1.5 -0.7 4.7 -5 1.5 -1.5-0.2 -2-2 -0.5-0.9 -0.9-5.1zM551.1 196.5l0.7-0.9 1-0.5 3.5-0.6 3.7 0.5 1.1 0.5 0.8 1 -0.5 1 -0.9 0.5 -4.2 0.7 -3.8-0.7 -0.9-0.5zM491 203l0.1-0.5 1.2-0.7 5.5-1.7 1.5-0.1 7.2 3 5.8 4 0.5 1 -1 0.6 -9 1.9 -4.5 3.5 -1.5 0.8 -0.9-0.8 -1.7-5zM480.3 208.8l1-0.1 1.3 1.3 0.3 1.5 -0.6 0.8 -1-0.1 -1.1-1.2 -0.3-1.5z"/><path fill="#00b2ff" d="M529.5 100.5l2.8-2.3 3-0.3 1.3 0.1 0.7 0.5 1.2 2 -0.4 1.5 -0.8 0.6 -3-0.2 -3 0.6 -1.1-0.5zM509.8 99l1 0 0.5 0.5 0.2 1 -0.7 1.1 -1 0 -0.6-0.6 -0.1-1zM560.8 103.5l0.2 1 -0.7 1.2 -1.5 0.6 -3 0 -5 4.4 -0.5-0.2 -0.5-2.6 1 0.5 0.5-0.2 4-5.1 2-0.7 1.5-0.1 1 0.3zM504.9 105l3.4-0.6 0.8 0.6 -0.8 0.5zM486 129.5l2.3-4.9 1-1.4 6.5-3.4 5.5-3.6 1-0.3 1 0.6 4.7 4.5 5.3 3.7 3 0.8 16.5 2.3 5.6 1.2 3.9 2 1.4 1 0.9 1.5 0.3 2 -0.8 1.5 -2.3 1.5 -8.4 0.5 -5.6 3.2 -1.5 0.1 -10.5-3 -3.5-0.7 -2.5 0 -6.5 1 -1.5-0.3 -12.6-4.3 -0.9-0.8 -1.5-2.4zM458.6 132.5l1-1 1.2-0.4 2.5 0.3 1.8 2.1 1.7 1.2 2 0.9 1.5-0.2 2.6 3.6 -0.1 0.6 -0.5 0.6 -2.5-2 -7-2.8 -3-0.8 -1.2-1.1zM589.2 133.5l0.2-0.5 0.9-0.5 3-0.4 3.4 0.4 0.9 0.5 0.2 0.5 -0.5 0.5 -1.4 0.5 -2.6 0.2 -2.5-0.3zM476.9 165.5l0.9-2 3.9-5 0.1-1 -1.2-2 -0.1-0.5 0.3 0 2 2 3.5 0.5 5.5 0 3 0.5 12 0.2 8 3 11.5 0.9 2-0.3 0.6-0.3 0.2-0.5 -1.8-3.2 2 1.2 3.5 3 10.5 2.4 1.2 1.1 0.4 1.5 -0.4 1.5 -1.7 1.2 -11.6 1.8 -7.9 3.2 -8 4.2 -7.5 2.4 -9-2.5 -16.5-3.9 -3.9-4.9zM591.3 158.9l1 1.1 0.9 2 0 1.5 -2.9 1.8 -2.5 2.6 -1 0 -0.9-0.4 -0.1-1 1.2-3 -0.1-3 0.3-1 1.6-0.9zM579.9 175.5l0.4-1.1 2-0.7 1.8 0.3 1 1 -0.3 1.1 -2 0.8 -2-0.4zM457.8 182.4l1-0.6 3-0.6 4.4 1.3 0.5 1.5 -0.6 4.5 -0.8 0.5 -3.5 0.9 -1.5-0.5 -1.8-1.9zM552.2 196.5l1.1-1 3-0.6 3 0.5 1.2 0.6 0.3 0.5 -0.5 0.8 -1 0.5 -3 0.5 -3-0.6 -0.9-0.7zM491.9 203l0.4-0.5 6-2 1.5 0 6.5 2.8 4 2.7 1.5 1.5 -0.5 0.5 -8.5 1.8 -5.5 4 -0.5-0.2 -0.4-0.6 -1.6-4.5zM480.8 209.3l0.5 0 0.8 0.7 0.1 1.5 -0.9 0.1 -0.6-0.6 -0.3-1z"/><path fill="#00dbff" d="M531 100.5l0.7-1 1.1-0.7 2.5-0.4 1.5 0.4 0.9 1.7 -0.3 1 -0.6 0.4 -4.5 0.2 -1-0.5zM560.3 104l-0.1 1 -0.9 0.6 -1 0.2 -2-0.3 -2.8 1.5 0.8-2 1.5-1.7 3-0.5 1 0.4zM486.6 129.5l2.2-4.8 0.9-1.2 6.1-3.2 5.5-3.6 1-0.2 5.5 5 5.2 3.5 3.3 0.8 16 2.2 4.4 1 2.6 1.4 3.5 1.3 1.2 1.3 0.4 2 -0.6 1.5 -2 1.4 -9.6 0.6 -5.5 3 -1.4 0.3 -10-2.9 -3.5-0.6 -2.5 0 -6 0.9 -1.5-0.2 -12.5-4.4 -2.4-3.6zM459.4 132.5l1.4-0.9 2 0.2 1.8 2.2 1.8 1.5 -1.1 0.1 -5-1.3 -0.9-0.8zM591.2 133.5l0.3-0.5 1.8-0.4 2 0.3 0.5 0.6 -0.8 0.5 -1.7 0.2 -1.3-0.2zM477.5 165.5l0.3-1 2.2-3 3.3-3.6 1-0.3 7.5 0.2 3.5 0.5 11.5 0.2 7 2.7 9 0.8 5.5 0.1 1.3-0.6 0.2-1.1 0.5 0.1 2.5 1.8 6.7 1.7 3.3 0.5 1.4 1 0.4 1.5 -0.4 1.5 -1.4 1 -10 1.3 -4 1 -6.5 2.7 -7.3 4 -5.8 2 -1.9 0.3 -24.8-6.3 -3.7-4.8zM590.8 160.2l0.9 1.3 0.1 1.1 -3 2.4 -1 0.2 0.5-4.7 1-0.6zM580.8 175l0.5-0.5 1.5-0.3 1 0.3 0.5 1 -0.5 0.6 -1.5 0.3 -1.2-0.4zM458.8 182.9l1-0.5 2-0.4 3.5 1 0.6 1.5 -0.6 3.4 -3 1 -1 0 -0.7-0.4 -1.4-1.5 -0.6-3zM553.6 196.5l0.7-0.7 2-0.4 2 0.3 1.1 0.8 -0.1 0.5 -0.9 0.5 -2.1 0.3 -1.7-0.3 -0.9-0.5zM493.1 203l3.2-1.4 3.5-0.7 6.1 2.6 3.6 2.5 0.9 1 -0.3 0.5 -7.3 1.7 -5 3.4 -0.5-0.2 -0.5-0.8 -1-3.1 -2.5-4.5z"/><path fill="#05fffa" d="M532.7 100.5l0.5-1 1.6-0.6 1 0.1 0.9 1 -0.3 1 -3.1 0.1zM555.7 104.5l0.5-0.5 2.1-0.7 1 0.4 0.3 0.8 -0.4 0.5 -0.9 0.3zM487.2 129.5l2.7-5.5 11.9-6.9 1 0.4 4.5 4.3 5 3.4 4 0.9 14.5 2 4.2 0.9 2.8 1.5 4.9 1.5 1.2 1.5 0.1 1.5 -0.7 1.5 -1.5 1 -10.5 0.6 -2 0.7 -3.6 2.2 -1.4 0.2 -12.5-3.3 -2.5 0 -6.5 0.9 -1.5-0.4 -11.4-3.9 -2.4-3.5zM460.2 133l0.6-0.7 1-0.2 0.8 0.4 0.4 1 -0.7 0.5 -1-0.1 -0.9-0.4zM478.2 165.5l2.6-4 3-3.1 1-0.4 7 0.1 3.5 0.5 11.5 0.2 5.5 2.3 3 0.5 11.5 0.8 4-0.5 7 2.3 5 0.6 1 0.7 0.6 1.5 -0.6 1.5 -1 0.7 -14.6 2.3 -5.9 2.4 -8 4.3 -7 2.1 -24-5.9 -1-0.9 -3-4zM582.2 175l0.6 0 0.1 0.5 -0.8 0zM459.9 183.5l2.4-0.6 2 0.6 0.6 1 -0.3 2.5 -0.7 0.5 -1.6 0.4 -1.5-0.5 -0.9-1.4 -0.3-1.5zM555.3 196.5l1-0.4 1.4 0.4 -0.3 0.5 -1.1 0.1 -0.7-0.1zM494.3 203.5l0.3-0.5 1.2-0.6 3-0.9 1.5 0 5.5 2.5 3.1 2.5 -0.1 0.5 -6 1.4 -4.5 2.9 -0.9-0.8 -0.8-2.5z"/><path fill="#2effd1" d="M487.8 129.5l2-4.4 0.9-1.1 11.1-6.2 1 0.5 4 3.9 5 3.3 21.3 3.5 2.9 1.5 6.3 1.7 1.2 1.3 0.1 1.5 -0.8 1.5 -1 0.6 -11.5 0.6 -2 0.5 -4.1 2.3 -1.4 0.1 -11.5-3 -2.5-0.1 -6 0.8 -1.5-0.3 -11-3.8 -2.1-3.2zM479.1 165.5l2.6-4 2.6-2.6 1.5-0.5 6 0.1 3.5 0.4 11 0.2 5 2.1 2.5 0.5 9 0.8 8 0.1 6 2 5.8 0.4 1.2 1 0.3 1 -0.3 1 -1.2 1 -14.8 2.2 -7.5 3 -6.5 3.5 -7 2.1 -23.1-5.8 -3.6-4.5zM460.8 184.5l1-0.6 1.5 0.3 0.5 0.8 -0.1 1 -0.4 0.5 -1.5 0.2 -0.8-0.7zM495.6 203.5l1.8-1 2.9-0.5 4.6 2 2 1.5 0.3 1 -4.9 1.3 -3.5 2.2 -0.6-0.5z"/><path fill="#57ffa8" d="M488.5 129.5l2.5-5 5.3-2.8 4.5-2.9 1-0.3 1 0.6 3.5 3.5 5 3.2 19.9 3.2 2.9 1.5 7.7 1.8 1 0.7 0.5 1.5 -0.5 1.5 -1.5 0.8 -6.5-0.2 -7 0.8 -5 2.4 -1 0.1 -11-2.7 -3.5 0 -4.5 0.6 -1.8-0.3 -10.2-3.5 -2-3zM480 166l0.6-1.5 2.2-3 2.5-2.4 7-0.2 3.5 0.5 10 0.1 6.5 2.4 18 1.2 6 2.1 6 0 1 0.6 0.5 1.2 -0.5 1.2 -1.5 0.7 -13 1.7 -3.5 0.9 -6.2 2.5 -6.3 3.4 -5 1.6 -1.5 0.2 -13-3.5 -8.5-1.8 -1.2-0.9 -2.5-3.5zM497.1 204l0.2-0.5 1-0.6 2.5-0.3 2.5 1 2.4 1.9 -0.4 0.6 -3 0.9 -3 1.5 -0.6-0.5z"/><path fill="#80ff80" d="M489.2 129.5l1.6-3.7 1-1.2 4.5-2.3 4.5-2.9 1-0.1 4.5 4 4.1 2.7 18.2 3 5.3 2 7.4 1.5 1 0.5 0.6 1.5 -0.6 1.4 -1 0.5 -8-0.3 -8 1 -3.6 1.9 -1.9 0.2 -10-2.5 -3 0 -4.5 0.6 -1.5-0.3 -9.5-3.3 -1.8-2.7zM481 166l0.6-1.5 1.8-2.5 2.4-2.4 1-0.2 5.5 0 3.5 0.4 10 0.2 5.5 2.1 17.7 1.4 5.3 2 7.6 0 1.1 0.5 0.4 1 -0.4 1 -1.2 0.6 -13 1.7 -4.5 0.9 -6 2.3 -6 3.3 -6 1.9 -13-3.5 -7.9-1.7 -1.1-1 -2.4-3.5zM498.6 204l1.2-0.7 1.5 0 2.2 1.2 0.4 0.5 -0.1 0.5 -4 1.4 -1-1.7z"/><path fill="#a8ff57" d="M489.9 129.5l1.4-3.3 1-1.2 9-5.1 1 0.5 5.5 4.7 2.5 1.4 15.5 2.4 6.2 2.1 9.3 1.9 0.9 0.6 0.3 1 -0.4 1 -0.8 0.5 -10.5-0.5 -6.5 0.9 -4.3 2.1 -1.2 0.1 -9.5-2.3 -3-0.1 -4 0.5 -1.5-0.2 -8.9-3 -1.7-2.5zM482.1 166l0.5-1.5 3.7-4.2 1.5-0.4 5 0 3.5 0.4 8.5 0 6 2.1 15.5 1.2 3 0.8 2.9 1.6 9.6-0.2 1 0.6 0.2 0.6 -0.6 1 -1.1 0.3 -17.5 2.5 -5.5 1.8 -7 3.8 -5.5 1.6 -19.9-5 -3-4zM500.2 204.5l0.6-0.5 1.2 0.5 -0.1 0.5 -1.1 0.4 -0.5-0.3z"/><path fill="#d1ff2e" d="M490.5 129.5l2.1-4 4.2-2.2 3.5-2.3 1-0.3 1 0.5 3 2.9 4 2.5 14.6 2.4 5.4 1.9 11.5 2.3 1 0.6 0.2 0.7 -0.6 1 -1.1 0.2 -12.5-0.8 -6 1.2 -3 1.6 -1.5 0.1 -8.5-2 -2.5-0.1 -4.5 0.5 -9.5-3.1 -1.4-2.1zM483.1 166l1.9-3 2.3-2.3 1-0.3 16 0.4 6 2 15 1.2 2 0.6 1.8 1.4 1.2 0.5 11-0.3 1 0.3 0.2 0.5 -0.2 0.5 -1.3 0.5 -16.2 2.2 -5.5 1.2 -3.5 1.4 -5 2.9 -5.5 1.5 -2-0.2 -9-2.6 -7.5-1.7 -2.9-3.7z"/><path fill="#faff05" d="M491.3 129.5l2-3.8 7-4.1 1-0.1 3.5 3.1 2.5 1.7 1.5 0.7 12.8 2 6.2 2 12.3 2.5 1.1 0.5 0.2 0.5 -0.3 0.5 -0.8 0.2 -14-0.9 -6.5 1.4 -3 1.3 -1.5 0.1 -6.5-1.6 -3-0.2 -4.5 0.3 -8.5-2.9 -1.2-1.7zM484 166.5l0.6-1.5 3.2-3.6 1.2-0.4 4.3-0.1 10.5 0.4 5.5 1.8 13.5 1.1 2.6 0.8 1.5 1.5 1.4 0.6 13.1-0.1 -1 0.5 -22.1 3.4 -2.8 1.1 -5.7 3.1 -5.5 1.5 -16.5-4.2 -1-0.7 -2-2.7z"/><path fill="#ffdb00" d="M492 129.5l1.8-3.3 7-3.9 1 0.4 3 2.8 3 1.6 11.5 1.9 6 1.9 13.5 3.1 -1.5 0.4 -13-0.7 -6.5 1.5 -2.5 1.2 -1 0 -7.5-1.5 -5.5 0.1 -2-0.5 -5.8-2 -1.1-1.5zM484.8 167l0.6-1.5 3.3-3.5 1.6-0.5 3.5-0.1 9.5 0.4 5.3 1.7 12.2 1 2.5 1 1.2 1.5 1.1 0.5 6.3 0.5 -15.6 2.7 -7.6 3.8 -4.9 1.3 -15.1-3.8 -3.4-3.5z"/><path fill="#ffb200" d="M492.9 129.5l1.7-3 6.2-3.4 1 0.6 2.5 2.3 2.5 1.4 10 1.6 14.7 4 -1.2 0.3 -8.5-0.2 -8 2.3 -1.5 0.1 -6.5-1.2 -5 0.1 -6.5-2.1 -1.1-1.3zM485.4 167.5l0.4-1.1 3.9-3.9 1.3-0.5 3.3-0.1 8.5 0.5 5 1.5 11.4 1.1 1.6 0.6 1.2 1.9 1.5 1 -0.5 0.5 -1.7 0.5 -7 1 -6.9 3.5 -4.1 0.9 -13.5-3.3 -2.5-2.5 -1.5-0.9z"/><path fill="#ff8a00" d="M493.7 129.5l1.4-2.5 4.7-2.7 1-0.2 2.2 1.9 2.4 1.5 10.6 2 8.2 2.5 -5.4 0.6 -7 2 -1.5 0 -5-0.8 -5-0.1 -4.1-1.2 -1.8-1zM486.2 167.5l0.1-0.5 1.6-1 3-3 1.4-0.4 10 0.4 4 1.2 10.5 1.1 2.1 1.2 0.8 2 -1.1 0.5 -5.3 0.9 -3 1.2 -3.5 2 -4 1 -12-2.9 -2.2-2.2z"/><path fill="#ff6100" d="M494.6 129.5l1.2-2.1 4.5-2.4 4.5 2.9 9.5 2.1 3 1 0.6 0.5 -7.6 2.4 -1.5 0.1 -3.5-0.7 -5-0.2 -4-1.1 -1.4-1zM487.9 167.5l3.9-3.8 2.5-0.5 7 0.4 3.5 1 9 0.9 2 0.8 0.7 1.2 0 0.5 -0.6 0.5 -5.6 1.4 -5 2.6 -3 0.7 -10.5-2.5z"/><path fill="#ff3800" d="M495.4 129.5l0.9-1.6 4-2 3.5 2.2 6.3 1.4 3.2 1.5 -1.4 1 -3.6 1.2 -7.5-0.6 -4.5-1.3 -0.8-0.8zM490.1 167.5l0.5-1 2.1-2 2.1-0.6 6 0.3 3.5 0.9 6.5 0.8 1.7 0.6 0.9 1 -1.1 0.9 -3.5 1 -4.5 2.3 -3 0.5 -8.5-2.1z"/><path fill="#ff0f00" d="M496.3 129.5l1-1.4 2.5-1.3 3.2 1.7 5.6 1.5 0.7 0.5 0.1 0.5 -0.6 0.6 -2 0.6 -6-0.2 -3.8-1 -0.5-0.5zM492.2 167.5l0.3-1 0.8-1 1-0.6 6 0 8.7 1.6 0.8 0.5 -0.1 0.5 -6.4 3.1 -2.5 0.6 -6.9-1.7z"/><path fill="#e50000" d="M497.2 129.5l0.8-1 1.8-0.8 5.7 2.3 0.5 0.5 -0.2 0.5 -1.5 0.5 -4-0.1 -2.5-0.7 -0.6-0.7zM494.1 167l1.2-1.3 2.5-0.2 6.9 1 1.4 0.5 0.1 0.5 -2.9 1.7 -3.5 0.9 -4.6-1.1 -0.9-1z"/><path fill="#bd0000" d="M498.3 129.5l0.5-0.5 1-0.2 2.6 1.2 -0.4 0.5 -2.2 0.1 -1.4-0.6zM495.7 167.5l0.5-1 1.6-0.3 4 0.7 1.1 0.6 -1.4 1 -2.2 0.6 -2.6-0.6z"/></g><path d="M488.8 126.5h56v7h-56zM488.8 161.5h56v7h-56z" fill="none" stroke="#000" stroke-width="2"/><path d="M488.8 126.5h56v7h-56zM488.8 161.5h56v7h-56z" fill="none" stroke="#fff" stroke-width="1.5" stroke-dasharray="4.6 2.5"/>
<path d="M376.8 287.5v-280.0h280.0" fill="none" stroke="#d8d8d0" stroke-width="0.6"/>
<path d="M376.5 287.5h280.3v-280.3" fill="none" stroke="#2a2a30" stroke-width="0.9"/>
<path d="M446.8 287.5v-3M446.8 7.5v3M376.8 217.5h3M656.8 217.5h-3M516.8 287.5v-3M516.8 7.5v3M376.8 147.5h3M656.8 147.5h-3M586.8 287.5v-3M586.8 7.5v3M376.8 77.5h3M656.8 77.5h-3" stroke="#262626" stroke-width="1" fill="none"/>
<text class="t" transform="translate(375.8 309.5) scale(1.000 1.100)" text-anchor="middle">-20</text>
<text class="t" transform="translate(370.8 292.7) scale(1.000 1.100)" text-anchor="end">-20</text>
<text class="t" transform="translate(445.8 309.5) scale(1.000 1.100)" text-anchor="middle">-10</text>
<text class="t" transform="translate(370.8 222.7) scale(1.000 1.100)" text-anchor="end">-10</text>
<text class="t" transform="translate(516.8 309.5) scale(1.000 1.100)" text-anchor="middle">0</text>
<text class="t" transform="translate(370.8 152.7) scale(1.000 1.100)" text-anchor="end">0</text>
<text class="t" transform="translate(586.8 309.5) scale(1.000 1.100)" text-anchor="middle">10</text>
<text class="t" transform="translate(370.8 82.7) scale(1.000 1.100)" text-anchor="end">10</text>
<text class="t" transform="translate(656.8 309.5) scale(1.000 1.100)" text-anchor="middle">20</text>
<text class="t" transform="translate(370.8 12.7) scale(1.000 1.100)" text-anchor="end">20</text>
<text class="l" transform="translate(516.1 332.7) scale(1.000 1.060)" text-anchor="middle">x (cm)</text>
<text class="l" transform="translate(346.8 148.2) rotate(-90) scale(1.000 1.060)" text-anchor="middle">y (cm)</text>
<text class="p" transform="translate(383.2 36.4)" text-anchor="start">(b)</text>
</g>
<g>
<rect x="708.3" y="7.5" width="280" height="280" fill="#000080"/>
<g fill-rule="evenodd"><path fill="#0000bd" d="M881.5 96.5l0.8-0.6 10.5-0.1 0.4 0.7 0.6 3 0.5 5.5 -0.3 1.5 -1.2 0.7 -4 1 -6.5-1.5 -0.6-1.2 -0.5-5.5zM844.2 104.5l-0.2 1 -0.5 0.5 -2.7 0.9 -3-0.2 -0.8-0.7 -0.1-0.5 0.9-1.1 3-1 2.5 0.3zM904.3 119.5l0.4-0.5 1.1-0.5 2.5-0.3 2.5 0.3 1.1 0.5 0.4 0.5 -0.4 0.5 -1.1 0.5 -2.5 0.3 -2.5-0.3 -1.1-0.5zM775.4 137l2.7-6 6.2-11.8 1.5-0.5 13-0.1 1.5 0.5 4.3 4.4 3.7 6.8 7 3.2 1.7 2 0.5 1.5 -1.8 3.5 -1.6 2 -9.3 3.7 -3-0.9 -1-0.8 -1.3-2 -1.2-3.2 -1-0.9 -3.5-0.6 -2.9 0.2 -8.6 3.3 -3.5 1 -1.2-0.8 -1.7-3zM869.1 132l0 1 -1.1 1.5 -4.2 2.3 -2.5 0.7 -2 0.1 -1.5-0.3 -0.9-0.8 0-1 1.1-1.5 3.8-2.3 2.5-0.7 2.5-0.2 1.5 0.4zM889 140l0.7-1 1.1-0.5 3-0.4 3 0.4 1.1 0.5 0.7 1 -0.3 1 -1 0.7 -3.5 0.7 -3.5-0.7 -1-0.7zM802.8 150l1 0.4 0.9 1.6 0.3 2 -0.2 2.5 -1.5 4 -1 1.1 -1.5 0.3 -1-0.8 -0.5-1.2 -0.3-1.9 0.2-2.5 0.6-2.2 0.9-1.8 1.1-1.1zM910.2 153l1.1-0.5 1 0.4 0.6 1.1 -0.5 1 -1.1 0.5 -1-0.4 -0.6-1.1zM804.8 162.2l0.5 0.1 0.5 0.7 0.2 3 2.8 0.8 0.6 0.7 0 0.5 -0.7 1 -1.9 1.1 -1.5 0.4 -2 0 -1.2-0.5 -0.3-1 1.1-2 0.7-3.5zM868.4 166l0.1 0.5 -0.5 1 -4.2 4 -6.5 3.9 -7.5 1.5 -1.5 0 -0.6-0.4 -0.1-1 3.6-7 0.6-0.7 7-3.6 1.5-0.3 6.5 1.3zM776.2 174l1.1-1 1.5-0.6 1.5-0.2 1.5 0.3 1.5 1 0.8 1 0.3 1 -0.1 1.5 -1 1.5 -1.5 1 -1.5 0.3 -2-0.3 -1.6-1 -1-1.5 -0.1-1.5zM787.2 189l0.5-1 4.1-4.4 1-0.5 15.5 4.6 0.4 0.8 -1.4 1.8 -11 10 -1 0.4 -1-0.7 -6.6-9.5z"/><path fill="#0000e6" d="M881.8 97l0.5-0.5 1-0.2 9 0 0.5 0.7 1 8 -0.2 1 -1.3 0.8 -3.5 0.8 -6-1.3 -0.6-1.3 -0.5-5zM837.6 105.5l1-1 2.2-0.6 2 0.2 0.6 0.4 0.1 0.5 -1.1 1 -2.1 0.5 -2-0.2zM906.4 119.5l1.9-0.6 1.9 0.6 -1.9 0.6zM776.4 136.5l3.9-8.4 4.5-8.3 1.5-0.4 12.5-0.1 1.5 0.6 3.5 3.6 3.9 7 7.1 3.4 1 1.1 0.7 1.5 -0.2 1 -3 4.5 -5 2.3 -4 1.1 -2.5-0.9 -1-0.8 -2.5-5.2 -1-0.7 -3.5-0.5 -2.5 0.1 -9 3.4 -3 0.7 -1-0.6 -1.6-2.9zM867.7 132.5l-0.2 1 -0.9 1 -2.8 1.6 -3.5 0.6 -1.4-0.2 -0.6-0.5 0.1-1 0.9-1 3-1.7 3.5-0.6 1.5 0.3zM890 140l1.3-1 2.5-0.4 2.5 0.4 1.3 1 0 0.5 -0.8 0.7 -3 0.6 -3-0.6 -0.8-0.7zM910.8 153.5l1 0 0 1 -1 0zM801.8 156.2l0-0.3 0.3 0.1zM804.8 164.2l0 1.3 -0.5 0.6 -0.2-1.1 0.2-0.6zM867.8 166.5l-0.8 1.5 -3.7 3.3 -6.5 3.9 -7 1.2 -1.5-0.4 0.2-1.5 3.3-6 1-0.9 5-2.5 2-0.7 1 0 6 1.4zM803.4 169l0.5-1 0.9-0.8 2.5 0.3 0.5 0.5 -0.8 1 -1.2 0.5 -1.5 0.1zM787.8 189l3.5-4.3 1-0.9 1-0.2 14 4.4 0.4 0.5 -1 1.5 -10.4 9.4 -1 0.5 -1-0.8 -6.3-9.1z"/><path fill="#000fff" d="M882.5 97l1.3-0.3 7.5 0 0.9 0.3 1.1 7.5 -0.5 1.4 -4 1.1 -5.5-1.1 -0.6-0.9 -0.6-7zM838.4 105.5l0.9-0.8 1.5-0.4 1.5 0.1 0.5 0.6 -0.5 0.5 -2 0.6 -1.3-0.1zM815.3 136l-0.3 1.5 -2.2 3.5 -4.5 2.8 -4 0.6 -2-0.4 -1.5-1 -2.2-4.5 -1.3-1.2 -3-0.5 -2.5 0.1 -9 3.2 -2.5 0.5 -1-0.6 -1.8-3.5 1.3-3.6 6-11.7 1-0.9 13-0.3 1 0.3 3.7 3.7 3.5 6.5 6.8 3.5zM865.4 133l0 1 -2.1 1.3 -2 0.3 -1-0.6 0.7-1 1.8-1 1.5-0.2zM891.3 140l0.5-0.5 2-0.4 2 0.4 0.5 0.5 0 0.5 -0.8 0.5 -1.7 0.3 -1.7-0.3 -0.8-0.5zM867 166.5l0.1 0.5 -0.7 1 -3.3 3 -5.8 3.6 -7 1.3 -1 0 -0.5-0.4 0.4-1.5 3-5.5 7.1-3.6 1-0.1zM788.3 189l4-4.6 1-0.3 11.2 3.4 1.8 0.9 0.3 0.6 -7.3 7 -3 2.6 -1 0.4 -1-0.7 -5.7-8.3z"/><path fill="#0038ff" d="M883.1 97.5l7.2-0.3 1.3 0.3 0.7 3.9 0.2 3.1 -0.2 0.6 -3.5 1.2 -5-1 -0.5-0.8 -0.6-4.5 0.1-2zM839.6 105.5l0.2-0.5 0.5-0.2 1.4 0.2 -0.5 0.5zM786.2 121.5l2.1-0.5 10.5-0.1 1 0.5 3.1 3.1 3.3 6 1.4 1 4.3 2 1.5 1.5 0.3 1 -0.3 1 -3.8 5.5 -1.3 0.9 -1 0.2 -5.5-0.7 -1-0.8 -1.9-3.6 -1.1-1.4 -3.5-0.8 -2.5 0.1 -8.6 3.1 -2.2 0 -1.5-2.5 -0.3-1.5zM866.4 167l-0.5 1 -3.3 3 -5.8 3.5 -6.5 1 -1-0.5 0.5-1.5 2.9-5 5.6-2.9 1.5-0.4 1.5 0.1 4.5 1.1zM788.8 189l3-3.6 1.5-0.7 10.5 3.2 1.2 0.6 0.2 0.5 -0.7 1 -5.7 5.2 -3.5 2.8 -1-0.6 -5-7.1z"/><path fill="#0061ff" d="M884.2 98.5l1.1-0.3 4-0.1 1.4 0.4 0.6 3.5 -0.1 2 -0.9 0.6 -2 0.4 -3.5-0.8 -0.5-0.7 -0.4-3zM787.3 122.5l2-0.5 9-0.1 1.5 0.7 2.5 2.7 2.9 5.2 5.5 3 0.9 1 0.1 1.5 -1.3 2.5 -0.5 2.5 -0.8 1.5 -1.3 0.7 -1 0 -2.5-1.5 -2 0.1 -1-0.3 -3-4.4 -1-0.8 -1.5-0.4 -3.5-0.1 -7.5 2.7 -2 0 -1.3-2 -0.3-1.5zM865.5 167l-0.2 1 -2.6 2.5 -5.5 3.5 -5.9 1 -1 0 -0.4-0.5 2.9-5.6 5-2.7 2.5-0.6zM789.5 189l2.3-2.8 1.5-0.9 9.1 2.7 1.2 1 -0.7 1 -7.1 6.3 -1 0.4 -3.4-4.2 -1.6-2.5z"/><path fill="#008aff" d="M886.3 100.2l1-0.3 1.5 0.2 0.5 1.4 -0.4 1 -1.1 0.3 -1.1-0.3 -0.5-1zM788.6 123.5l2.2-0.8 3 0.5 4.5 0 1 0.4 2.2 2.4 2.1 4 4.8 3 1 1 0.2 1 -0.5 2.5 0.4 3.5 -0.7 1.4 -1 0.5 -1-0.1 -3-2.8 -2 0.3 -1-0.4 -2.5-3.3 -2-1.2 -3.5-0.2 -7 2.3 -1.5-0.5 -1-2 0.2-1zM864.7 167.5l-0.5 1 -2.1 2 -4.8 3.1 -5 0.9 -1.5-0.2 0.2-1.3 2.2-4 4.6-2.5 1.5-0.5 4.5 0.9zM790.3 189l1-1.4 2-1.5 6.9 1.9 1.5 1 -1.6 2 -4.3 3.8 -1 0.5 -1-0.7 -3.2-4.6z"/><path fill="#00b2ff" d="M789.4 124l0.9-0.6 1-0.1 2.5 1.2 4 0 1.5 0.8 3.5 5.2 3.2 1.5 1.5 1.5 1.6 7 -0.4 1.5 -0.9 0.5 -1-0.1 -3.5-4.4 -2 0.5 -1-0.3 -2.5-2.6 -1-0.5 -4-0.5 -4.5 1.4 -1.5 0 -0.9-1.5 0-1 2.7-6zM863.7 168l-2.2 2.5 -4.7 2.9 -4 0.5 -1-0.1 -0.3-0.3 0.5-1.5 1.8-3 5-2.5 1.5 0.1 3 0.8zM791.2 189l1.3-1.5 1.3-0.5 4.9 1.5 0.8 0.5 0.1 0.5 -3.3 3.1 -1.5 1 -0.5 0 -2-2.2z"/><path fill="#00dbff" d="M790.2 124l1.6 0 2 2 4.5 0.3 1.2 1.2 1.9 3 3.4 1.2 1.2 0.8 0.9 1.5 1.8 6 0.1 1 -0.5 0.9 -1 0.3 -1-0.6 -2.5-4.5 -1-1.1 -3 0.4 -3-1.7 -4-0.7 -3 0.5 -0.9-0.5 -0.2-1.5 1.2-3.5 -0.3-4zM862.5 168l-0.1 1 -1 1 -4.1 2.7 -3.5 0.6 -1.3-0.3 0.1-1 1.4-2.5 3.3-1.9 2-0.6zM793.3 188l2.6 0.5 1.1 0.5 0.3 0.5 -2.5 2.5 -1-0.1 -1.4-1.9 -0.1-1z"/><path fill="#05fffa" d="M790.5 124.5l0.8-0.1 0.5 0.3 2 2.8 4 0.4 2.5 2.9 5.2 1.7 0.9 1.5 1.9 6 -0.2 1.5 -0.8 0.2 -0.5-0.2 -3-5.5 -1-0.9 -3.5-0.1 -4.5-0.9 -3.4-1.6 -1.2-7.5zM861.5 168.5l0 0.5 -0.8 1 -3.4 2.2 -1.5 0.4 -2.2-0.1 0-1 0.8-1.5 1.9-1.5 2.5-0.9zM793.7 189.5l0.6-0.1 0.1 0.6 -0.6 0z"/><path fill="#2effd1" d="M790.8 125.5l0.5-0.3 3 4.9 0.5 0.1 2-0.6 2.1 1.4 4.9 1.1 1.5 0.7 2.5 7.2 -0.1 1 -0.4 0.1 -0.5-0.3 -2.8-5.3 -0.7-0.8 -5-0.4 -4.1-0.8 -2.2-2.5zM860.3 169l-0.5 1 -2.5 1.7 -1.6 0.3 -1.1-0.5 0.7-1.7 2-1.3 1.5-0.2z"/><path fill="#57ffa8" d="M794.2 132l1.1-0.6 1.5-0.1 7.5 1.3 1.2 1.4 1 4.5 -2.3-3.5 -0.9-0.8 -8-0.6 -1-0.6zM859 169.5l-1.7 1.5 -1.5 0 0.2-1 0.8-0.6 1.5-0.4z"/><path fill="#80ff80" d="M794.8 132.5l0.5-0.4 1-0.1 5.5 0.5 2.3 0.5 0.7 1.2 -2-0.5 -7-0.4 -0.9-0.3z"/></g><path d="M820.3 126.5h56v7h-56zM820.3 161.5h56v7h-56z" fill="none" stroke="#000" stroke-width="2"/><path d="M820.3 126.5h56v7h-56zM820.3 161.5h56v7h-56z" fill="none" stroke="#fff" stroke-width="1.5" stroke-dasharray="4.6 2.5"/>
<path d="M708.3 287.5v-280.0h280.0" fill="none" stroke="#d8d8d0" stroke-width="0.6"/>
<path d="M708.0 287.5h280.3v-280.3" fill="none" stroke="#2a2a30" stroke-width="0.9"/>
<path d="M778.3 287.5v-3M778.3 7.5v3M708.3 217.5h3M988.3 217.5h-3M848.3 287.5v-3M848.3 7.5v3M708.3 147.5h3M988.3 147.5h-3M918.3 287.5v-3M918.3 7.5v3M708.3 77.5h3M988.3 77.5h-3" stroke="#262626" stroke-width="1" fill="none"/>
<text class="t" transform="translate(707.3 309.5) scale(1.000 1.100)" text-anchor="middle">-20</text>
<text class="t" transform="translate(702.3 292.7) scale(1.000 1.100)" text-anchor="end">-20</text>
<text class="t" transform="translate(777.3 309.5) scale(1.000 1.100)" text-anchor="middle">-10</text>
<text class="t" transform="translate(702.3 222.7) scale(1.000 1.100)" text-anchor="end">-10</text>
<text class="t" transform="translate(848.3 309.5) scale(1.000 1.100)" text-anchor="middle">0</text>
<text class="t" transform="translate(702.3 152.7) scale(1.000 1.100)" text-anchor="end">0</text>
<text class="t" transform="translate(918.3 309.5) scale(1.000 1.100)" text-anchor="middle">10</text>
<text class="t" transform="translate(702.3 82.7) scale(1.000 1.100)" text-anchor="end">10</text>
<text class="t" transform="translate(988.3 309.5) scale(1.000 1.100)" text-anchor="middle">20</text>
<text class="t" transform="translate(702.3 12.7) scale(1.000 1.100)" text-anchor="end">20</text>
<text class="l" transform="translate(847.6 332.7) scale(1.000 1.060)" text-anchor="middle">x (cm)</text>
<text class="l" transform="translate(678.3 148.2) rotate(-90) scale(1.000 1.060)" text-anchor="middle">y (cm)</text>
<text class="p" transform="translate(714.7 36.4)" text-anchor="start">(c)</text>
</g>
<g>
<rect x="45.2" y="349.5" width="280" height="280" fill="#000080"/>
<path d="M157.2 468.5h56v42h-56v-7h49v-28h-49z" fill="#800000"/>
<path d="M45.2 629.5v-280.0h280.0" fill="none" stroke="#d8d8d0" stroke-width="0.6"/>
<path d="M44.9 629.5h280.3v-280.3" fill="none" stroke="#2a2a30" stroke-width="0.9"/>
<path d="M115.2 629.5v-3M115.2 349.5v3M45.2 559.5h3M325.2 559.5h-3M185.2 629.5v-3M185.2 349.5v3M45.2 489.5h3M325.2 489.5h-3M255.2 629.5v-3M255.2 349.5v3M45.2 419.5h3M325.2 419.5h-3" stroke="#262626" stroke-width="1" fill="none"/>
<text class="t" transform="translate(44.2 651.5) scale(1.000 1.100)" text-anchor="middle">-20</text>
<text class="t" transform="translate(39.2 634.7) scale(1.000 1.100)" text-anchor="end">-20</text>
<text class="t" transform="translate(114.2 651.5) scale(1.000 1.100)" text-anchor="middle">-10</text>
<text class="t" transform="translate(39.2 564.7) scale(1.000 1.100)" text-anchor="end">-10</text>
<text class="t" transform="translate(185.2 651.5) scale(1.000 1.100)" text-anchor="middle">0</text>
<text class="t" transform="translate(39.2 494.7) scale(1.000 1.100)" text-anchor="end">0</text>
<text class="t" transform="translate(255.2 651.5) scale(1.000 1.100)" text-anchor="middle">10</text>
<text class="t" transform="translate(39.2 424.7) scale(1.000 1.100)" text-anchor="end">10</text>
<text class="t" transform="translate(325.2 651.5) scale(1.000 1.100)" text-anchor="middle">20</text>
<text class="t" transform="translate(39.2 354.7) scale(1.000 1.100)" text-anchor="end">20</text>
<text class="l" transform="translate(184.5 674.7) scale(1.000 1.060)" text-anchor="middle">x (cm)</text>
<text class="l" transform="translate(15.2 490.2) rotate(-90) scale(1.000 1.060)" text-anchor="middle">y (cm)</text>
<text class="p" transform="translate(51.6 378.4)" text-anchor="start">(d)</text>
</g>
<g>
<rect x="376.8" y="349.5" width="280" height="280" fill="#000080"/>
<g fill-rule="evenodd"><path fill="#0000bd" d="M501.7 405.5l1.1-0.2 0.4 0.7 -0.2 0.5 -0.7 0.3 -0.5-0.2zM568.1 410.5l0.6-1 1.1-0.8 2-0.2 10.5 4.1 3-0.2 2 0.4 1.8 1.2 1 1.5 0.4 2 -0.4 1.5 -0.8 1.2 -1.5 1 -2 0.4 -2-0.4 -3.5-2.7 -11-4.5 -1.2-1.5zM513.6 419l1.2-1.5 2.5-0.4 2.5 0.7 0.9 1.2 -0.3 1 -0.6 0.6 -2.5 0.8 -2.5-0.5 -1-0.9zM535 426.5l0.8-0.6 0.7 0.1 0.5 0.5 -0.2 0.6 -1 0.2 -0.7-0.3zM497.8 447.5l0.4-1.5 1.6-1.3 5-0.2 1-0.4 0.3-2.6 0.7-1.5 1.5-1.4 1.5-0.5 2 0.2 3.1 2.2 8.4 2 1.4-0.5 5.1-3.9 8-0.2 1.5 0.5 6.3 4.1 5.7 3 1-0.3 2-2 2-0.9 16-4.1 2.5 0 1.1 0.8 0.3 1 -0.3 1.5 -1.1 1 -10.1 3 -0.5 0.5 -1 2.5 -1.4 1.2 -2 0.7 -3.5 0.5 -0.5 0.6 -0.8 3 -1.2 1.1 -1.5 0.4 -2-0.3 -4.4-2.7 -4.6-2 -6.6-1.5 -9.9-0.1 -11.5-2.7 -1 0.5 -1.1 1.8 -1.4 0.9 -9 0.1 -2-0.6 -0.7-0.9zM502.3 455.3l1.5 0.4 6 5.8 6.5 4.3 24.5 3.5 1-0.2 2-1.5 1.5-0.7 3.5 0 2 1.1 1.8 2 0.5 1.5 0.7 3.9 2-1.5 1.5-0.6 2-0.3 1.5 0.3 2 1 2.2 2.2 8.3 3.2 1 0.8 0.4 1 -0.1 1 -0.8 1.1 -1 0.4 -1-0.1 -10-3.4 -4.5-0.4 -1-0.3 -2-1.4 -0.4 0.1 1 20 0.4 0.8 2.7 1.7 1.1 2 -0.3 0.9 -0.5 0.4 -2.5-0.4 -0.5 0.3 -0.1 4.8 -1 2.5 -1.9 1.9 -2 0.8 -2.5 0 -3.5-1.1 -3.5 1.5 -7.5 1.9 -8.5 4.2 -10.9 3.8 -0.1 0.5 5 4 1.2 2 0 2 -0.7 1.5 -1.5 1.2 -1.5 0.4 -1.5-0.2 -1.5-0.7 -10.5-7.6 -1.1-1.1 -1.4-2.6 -9.5-2.2 -9.5-2.8 -4.4-4.4 -1.7-4 0.3-1.5 2.5-5 0.8-1 6-4.3 3.5-0.9 2.5 0 3.5 1.3 14 0.5 7.5 2.9 9.2 0.5 1-0.5 -3.7-4 -0.7-1.5 0.1-1 0.6-1 1-0.6 1-0.1 2 1.1 6.5 6 0.5 0.1 2-1 1-1.3 0.4-1.7 0-9 -0.4-3 -0.5-0.4 -5 2.6 -4.5-1.4 -5.6-2.3 -5.9-1.2 -3-0.1 -5.5 0.9 -3 0.2 -15-5 -1.6-0.8 -2.7-4.5 -0.6-2 3.4-7 1-0.9 7.8-4.1zM465.8 464.2l1-0.3 1.5 0.3 1 0.8 0.6 1 1.7 8.5 0.3 3 1.9 1.2 3 0 2 0.5 2 1.4 1.5 1.9 0.8 2 0 3 -1.2 2.5 -1.6 1.4 -2.5 0.6 -3-0.8 -2.1-1.7 -1.1-1.5 -0.8-2.2 -0.8-0.8 -6.2-3.5 -4.5-1.3 -1.8-1.7 -0.5-1 0-1.5 1.3-2 2-1.3 4-0.7 -0.3-5.5 0.7-1.5zM582.7 475l0.6-1.1 2.5-1.3 3.5-0.7 5-0.3 5 0.3 3.5 0.8 2 0.9 0.9 1.4 -0.8 1.5 -2.6 1.1 -4 0.8 -4 0.2 -4-0.2 -4-0.7 -2.8-1.2zM609.5 488.5l0.6 1.5 -0.8 1.7 -9.6 4.8 -0.9 0.9 1.2 3.1 0.1 5 0.4 2 0 4.5 -0.6 1 -7.6 2.1 -3.1 3.9 -1.4 1.2 -4 0.9 -2.5 0.1 -2-0.4 -2.1-1.3 -0.8-1.5 0.3-2 5.6-5.9 0.6-1.6 -1-6.5 -1.8-4 0-1 0.4-0.5 6.3-3.8 8 0.8 3-1.7 9-3.7 1.5-0.2zM460.8 495.2l1 0.3 0.7 1 -0.2 1.5 -1 0.8 -1-0.2 -0.8-1.1 0.2-1.5zM445.8 502.4l1-0.2 1 0.7 0 1.1 -0.5 0.6 -1 0.2 -0.6-0.3 -0.4-1zM450.8 522.5l5-1.4 2.5-0.3 11 2.2 0.8 1 0.6 3 0.4 6.5 -0.8 0.8 -7.5 3.1 -2.5 2.9 -1 0.4 -1-1.2 -3.5-8 -4.7-7.5 0.1-1zM534.1 541.5l0.3-2 1.1-2 2.3-1.8 2-0.5 5 0.6 15.5 0.1 1.5 0.6 0.9 1.5 -0.3 2 -1.6 1.3 -13 0.5 -0.5 0.2 -1.2 2.5 -1.3 1.3 -1.5 0.9 -2 0.5 -3-0.3 -2-1.1 -1.7-2.3zM585.3 537.7l0.5-0.4 1 0.1 0.5 0.6 -0.2 1 -0.8 0.4 -0.9-0.4 -0.3-0.5zM484.4 542l0.9-0.6 9-1.6 3.5 0 11.5 4.5 8.2 6.7 0.3 1 -1 0.7 -8 2.6 -6 0.4 -6 6.3 -1.5 0.7 -1.3-1.7 -3.7-9.5 -5.6-8zM480.8 547.6l2 0.1 1.5 0.7 1.5 1.6 0.6 2 -0.2 2.5 -0.8 1.5 -1.6 1.3 -1.5 0.5 -1.5 0 -2-1 -1.1-1.3 -0.8-2 0.1-2 0.9-2 1.4-1.3zM564.1 552.5l0.5-0.5 0.7-0.1 0.6 0.6 0 0.5 -1.1 0.5 -0.7-0.5zM528.8 577.9l1-0.4 1 0.2 1.5 0.9 1.4 1.4 1.6 3 0.1 1 -0.6 1.1 -1 0.4 -1-0.2 -1.5-0.9 -1.4-1.4 -1.6-3 -0.1-1z"/><path fill="#0000e6" d="M568.6 410.5l1.2-1.3 1.5-0.2 11 4.2 3-0.3 1.5 0.3 1.5 0.8 1.2 1.5 0.4 1.5 -0.2 1.5 -0.9 1.4 -1.5 0.9 -1.5 0.3 -2-0.4 -3-2.5 -11-4.4 -1.2-1.3zM514.4 419l0.9-1 2-0.4 1.6 0.4 0.9 1 -0.5 1.2 -2 0.6 -2-0.4 -0.6-0.4zM498.3 447.5l0.5-1.5 1-0.8 5.5-0.3 1-0.4 0.2-2.5 0.6-1.5 1.2-1.3 1.5-0.6 2 0.3 3 2.1 8.5 2.1 1.5-0.6 5.5-4.1 7.5 0 1.5 0.6 6.2 4 4 2 1.8 1.4 3.5-3 5.5-1.8 13-3 1.5 0.2 0.8 1.2 -0.3 1.3 -1 0.8 -10 3.1 -0.5 0.4 -0.8 2.4 -1.7 1.4 -2 0.7 -3 0.2 -1 1.2 -0.4 2 -0.6 1 -1 0.8 -1 0.2 -2-0.4 -4-2.4 -4.5-2 -7.5-1.7 -9 0 -12-2.8 -1.5 0.7 -1.3 2.1 -1.2 0.6 -8 0 -2-0.5zM502.3 455.7l1.5 0.6 5.5 5.4 7 4.5 25 3.6 1.1-0.3 2-1.5 1.9-0.6 2 0.1 2.1 1 1.4 1.5 0.8 2.5 1.6 26.5 0.6 1.1 2.4 0.9 1 1.5 0.1 0.5 -0.5 0.6 -3-0.6 -0.3 1 0.1 4.5 -0.3 1.4 -1.3 2.1 -1.7 1.2 -3 0.4 -3-1 -1 0 -3.5 1.6 -7.5 1.9 -8.5 4.1 -11.8 4.3 0.3 1 5 3.8 1.1 1.7 0.1 1.5 -0.6 1.5 -1 1 -1.1 0.5 -1.5 0 -1.5-0.7 -11.5-8.4 -1.1-2.4 -0.8-0.5 -7.6-1.7 -11-3.1 -4.3-4.2 -1.8-4 0.3-1.5 2.9-5.5 5.9-4.4 3.5-0.9 2.5 0 3.5 1.3 13.5 0.4 7.5 2.8 8.5 0.6 2.9-0.3 -0.4-1 -4-4.5 -0.1-1.5 1.1-1.1 1-0.1 1 0.4 7.5 6.7 2.5-0.9 1.6-2 0.3-1.5 0-9 -0.4-3 -0.5-1 -1 0.1 -4 2.3 -1 0.1 -3.5-0.9 -6.7-2.6 -5.3-1.2 -3.5 0 -5 0.9 -3 0.1 -15-4.9 -1.4-0.9 -3-5.5 0.3-1.5 2.8-5.5 1.3-1.2 7.2-3.8zM465.8 464.9l1-0.3 1 0.1 1.4 1.3 1.9 8.5 0.2 3 0.3 0.5 2.2 1.3 3-0.1 2 0.6 1.5 1.1 1.3 1.6 0.9 2 0.1 2.5 -0.7 2 -1.6 1.7 -2.5 0.7 -3-0.8 -2.2-2.1 -1.8-3.6 -7-3.9 -4-1.1 -1.3-0.9 -0.7-1 -0.2-2 1.4-2 1.8-0.9 4-0.7 -0.2-5.9zM583.4 475l0.9-1.1 2.5-1 3-0.6 4.5-0.3 4.5 0.3 3 0.6 2.5 1.1 0.7 1 -0.7 1.2 -2.5 1.1 -3.5 0.6 -4 0.3 -3.5-0.2 -4-0.7 -2.5-1zM554.5 476l0.8-1.2 1.5-0.9 2-0.4 2 0.3 1.5 0.7 2 2.2 9 3.7 0.7 1.1 -0.1 1 -1.1 0.8 -1 0 -10-3.3 -4.5-0.3 -1.4-0.7 -1.1-1 -0.4-1zM608.3 489.7l0 0.8 -0.5 0.5 -10 5.5 0.1 1 1.5 3.5 0.4 10.6 -0.5 0.8 -7 1.9 -4 4.7 -3.5 1.5 -2 0.3 -2.5-0.2 -1.5-0.5 -1.4-1.1 -0.6-1.5 0.5-1.5 5-5.3 1.1-2.2 -0.5-4.5 -0.6-2.5 -1.5-3.5 0.2-1 5.8-3.6 9 0.8 2-1.3 9.5-3.5zM460.8 496.1l0.5 0 0.5 0.8 -0.5 1 -0.5 0 -0.5-0.4 0-1zM451.3 523l5-1.4 2-0.3 10.7 2.2 0.5 0.5 0.6 3 0.5 5.5 -0.3 1 -7.5 3.3 -2.5 2.7 -1 0.3 -0.6-0.8 -3.3-7.5 -4.4-7 -0.2-1zM534.6 541.5l0.3-2 1.3-2 1.6-1.2 2-0.6 5 0.6 15.5 0 1.4 0.7 0.6 1.5 -0.5 1.5 -1.5 0.9 -13 0.5 -0.7 0.6 -0.8 1.9 -1 1.2 -1.5 1 -2 0.6 -2.5-0.2 -2-1 -1.6-2zM485 542.5l0.8-0.8 8.5-1.4 3.5-0.1 11 4.4 7 5.4 1.2 1.5 -0.3 0.5 -8.4 2.8 -5.5 0.4 -2 1.6 -4 4.4 -1 0.8 -0.5 0 -1.3-2 -3.2-8.5 -5.5-8zM480.3 548.2l2-0.2 1.5 0.6 1.4 1.4 0.7 1.5 0.1 2 -0.5 1.5 -1.2 1.5 -1.5 0.8 -2 0 -1.5-0.7 -1.1-1.1 -0.7-1.5 -0.1-2 0.5-1.5 0.9-1.3zM529.3 578.3l1-0.2 1 0.4 2.3 2 1.2 2.5 0 1 -0.5 0.7 -1 0.2 -1-0.4 -2.3-2 -1.2-2.5 0-1z"/><path fill="#000fff" d="M568.9 411l0.9-1.3 1.5-0.3 11 4.3 3-0.3 1.5 0.3 1.4 0.8 0.8 1 0.4 1.5 -0.2 1.5 -0.7 1 -1.2 0.8 -1.5 0.3 -1.5-0.2 -1.5-0.9 -1.5-1.6 -11.2-4.4 -1-1zM515.3 419l0.5-0.5 1.5-0.3 1.1 0.3 0.5 0.5 0 0.5 -0.6 0.5 -1 0.2 -1.4-0.2 -0.5-0.5zM498.8 447.5l0.5-1.5 1-0.5 6.3-0.5 0.4-0.5 0-2 0.4-1.5 0.9-1.2 1.5-0.7 2 0.4 2.5 1.8 9 2.2 1.5-0.4 5.5-4.2 7.5 0 10.7 6.1 1.1 1 0.4 1.5 0.8 0.2 3.5-3.6 2-1 16.5-3.8 1.5 0 0.7 0.7 -0.2 1 -0.6 0.5 -10.5 3.5 -0.4 0.5 -0.5 2 -1.5 1.5 -2 0.7 -3.2 0.3 -1.2 1.5 -0.7 2.5 -0.9 0.8 -1 0.3 -1.5-0.2 -4.5-2.7 -4.5-1.8 -7.5-1.8 -6.5-0.3 -2.5 0.2 -12-2.8 -1.5 0.5 -1.5 2.5 -1.5 0.6 -8.5-0.2 -1.1-0.6zM502.3 456.1l1.5 0.7 5.5 5.3 5 3.5 1.8 0.9 25.2 3.7 1.3-0.2 2.7-1.7 2.5-0.2 1.5 0.5 1.2 0.9 1.4 2.5 1.9 29.5 0.2 6.5 -0.7 2.5 -1.4 1.5 -1.6 0.8 -2 0.1 -2.5-0.8 -1 0 -4 1.6 -7.5 2.1 -11 5 -9.5 3.2 -0.6 0.5 0.3 1 5.2 4 1.1 1.5 0.2 1.5 -0.4 1 -1 1 -1.3 0.5 -2-0.5 -10.6-7.5 -1.1-1 -1.4-2.5 -8.4-2 -11-3.2 -4.3-4.3 -1.5-3.5 0.4-1.5 2.9-5.5 5.5-4 3.5-0.9 2.5 0 3.5 1.2 13.5 0.4 7.5 2.8 8.5 0.6 2.6-0.1 0.9-0.5 -4.6-5.5 -0.2-1 0.8-1.1 1-0.2 1 0.5 7.5 6.5 3-1.2 1.5-2 0.2-1.5 0-9.5 -0.4-3 -0.8-1.3 -1 0.1 -4.5 2.5 -1.5 0.1 -2.5-0.6 -6-2.3 -6.2-1.5 -3.3-0.1 -5 0.9 -3.5 0.1 -14-4.7 -1.5-0.8 -3.1-5.4 0.4-1.5 2.8-5.5 0.9-0.8 7.9-4.2zM466.3 465.3l1.5 0.1 1 1.1 1.9 8.5 0.2 3 2.9 1.9 3-0.1 2 0.6 1.4 1.1 1.1 1.5 0.7 2 0 2 -0.8 2 -1.4 1.3 -2.5 0.5 -2.4-0.8 -1.6-1.5 -1.7-3.5 -7.8-4.4 -3.9-1.1 -1.6-1.5 -0.3-2 1.3-1.7 2-1 3.5-0.2 0.5-0.3 0.2-0.8 -0.3-5 0.3-1zM584.2 475l0.9-1 2.7-1 6.5-0.6 6.5 0.7 2.5 0.9 0.9 1 -0.6 1 -2.3 1 -3.5 0.6 -3.5 0.2 -3.5-0.1 -3.5-0.7 -2.5-1zM555 476l0.8-1.1 1.5-0.8 1.5-0.3 2 0.3 1.5 0.9 1.5 2 9.1 4 0.4 1 -0.5 0.6 -1 0 -10-3.1 -4.5-0.2 -2-1.3 -0.4-1zM595.3 495l1 1.1 2.4 4.4 0.6 7.5 -0.3 3.5 -0.7 0.4 -6 1.6 -4 4.6 -3.2 1.9 -1.8 0.4 -2 0 -2.7-0.9 -1.3-1.5 0.2-1.5 5.3-6 1.2-2.5 -0.6-4 -0.6-2.5 -1.3-3 0.1-1 5.7-3.4zM555.6 501.5l1.1 0 0.6 1 -1 0.1zM468.8 523.9l0.4 0.6 0.9 7.5 -0.1 1 -0.7 0.6 -6.5 2.6 -2.5 2.7 -0.5 0.2 -0.5-0.1 -3.3-7.5 -4.4-7 0.1-1 6.6-1.7zM535.1 541.5l0.3-2 1-1.5 1.4-1.1 2-0.7 5 0.4 15 0 1.5 0.6 0.6 1.3 -0.6 1.5 -1.5 0.6 -13 0.5 -2.5 3.8 -1.5 0.9 -1.5 0.4 -2.4-0.2 -1.9-1 -1.3-1.5zM485.6 542.5l1.2-0.6 7.5-1.3 3.5 0 10.9 4.4 6.5 5 0.9 1.5 -1.3 0.8 -7 2.2 -5.5 0.4 -5.5 5.7 -1 0.7 -0.5 0 -1-1.7 -3.4-8.6 -5.1-7.5zM481.3 548.4l1.5 0.2 1.5 0.9 1.1 1.5 0.2 1.5 -0.1 1.5 -0.8 1.5 -1.4 1.1 -1.5 0.4 -1.5-0.3 -1.1-0.7 -1.1-1.5 -0.4-1.5 0.2-1.5 0.7-1.5 1.2-1.1zM529.4 579l1.4-0.2 2 1.4 1.4 2.3 0 1.5 -1.4 0.2 -2-1.4 -1.4-2.3z"/><path fill="#0038ff" d="M569.4 411l0.8-1 1.1-0.2 11 4.5 2.5-0.4 1.6 0.1 2 1.5 0.4 1 0 1.6 -0.5 0.9 -1.5 1 -2.5-0.1 -3-2.6 -11-4.2 -0.9-1.1zM499.2 447.5l0.3-1 0.8-0.5 5.5-0.4 1.5-0.3 0.4-0.8 -0.2-2 0.3-1.2 1-1.2 1.5-0.5 1.4 0.4 1.6 1.4 10.5 2.6 1-0.3 5.5-4.4 7-0.1 10.6 6.3 1 2 1.4 0.9 1-0.3 3-3.6 2-1 13-3 4.5-0.5 0.2 0.5 -1.5 1 -9.2 3.3 -0.5 0.7 -0.4 2 -0.6 0.7 -2 1.1 -3 0.1 -1 0.4 -1.4 1.7 -0.6 2.2 -1.5 1 -1.5-0.3 -4.5-2.7 -8.5-2.9 -3.5-0.6 -4.5-0.1 -2-0.4 -2.5 0.4 -11.5-2.9 -1 0 -1.5 0.7 -1 2.3 -1.5 0.8 -8-0.3 -1-0.3zM502.3 456.5l1.2 0.5 5.3 5.1 5 3.5 2 1.1 26.5 4 1-0.1 2.5-1.5 2-0.1 2 1 0.8 1 0.5 1.5 2 36 -0.5 1.5 -0.8 1 -1.5 0.9 -2 0.2 -2.5-0.8 -5.5 2.2 -7.5 2.1 -10.5 4.9 -10.5 3.5 -0.6 0.5 0.4 1 5.7 4.4 0.9 1.1 0.2 1 -0.3 1 -0.8 1 -1 0.4 -2-0.6 -10.3-7.3 -1.1-1 -1-2 -0.6-0.3 -8.5-2 -11-3.2 -3.8-4 -1.6-3.5 0.3-1.5 2.6-5.1 5.5-4.1 3.5-0.9 2-0.1 4 1.2 13.5 0.4 7.5 2.8 8.5 0.6 3-0.1 0.9-0.7 -4.6-5.5 -0.1-1 0.8-0.8 1.5 0.4 7.5 6.5 3.4-1.6 1.4-2 0.3-1.5 -0.1-9.5 -0.5-3.5 -0.5-1.4 -0.5-0.4 -1.5 0.5 -4.5 2.6 -1.5 0.1 -2-0.4 -6.9-2.5 -5.6-1.3 -3-0.1 -5.5 0.9 -3 0.1 -14-4.7 -1.4-0.9 -2.4-4 -0.4-1.5 3.2-6.4zM466.3 466.3l1-0.3 1 1.1 2 7.9 0 3 3.5 2.5 3-0.1 1.5 0.5 1.5 1 1 1.3 0.6 1.8 0 2 -0.6 1.5 -1.5 1.3 -2 0.4 -2-0.7 -2-1.9 -0.9-2.6 -0.6-0.7 -7.5-3.9 -4-1.1 -1.5-1.3 -0.4-1 0.1-1 1.3-1.6 2-0.8 4-0.2 0.3-0.9 -0.3-5zM585.2 475l1.1-1 1.5-0.6 6.5-0.7 6 0.7 1.8 0.6 1.1 1 -0.7 1 -1.7 0.7 -3 0.6 -3.5 0.2 -6.5-0.7 -1.9-0.8zM555.5 476l0.8-1 1.5-0.7 1.5-0.1 1.5 0.3 1.4 1 1.6 2.3 5.8 2.7 -0.3 0.3 -7.5-1.9 -3 0.3 -1.5-0.3 -1.8-1.4zM594.8 496l2.6 3.5 0.6 1.5 0.5 6.5 -0.2 3.2 -1 0.6 -5.5 1.5 -3 3.7 -3.5 3 -1.5 0.5 -2 0.1 -1.5-0.2 -1.5-0.7 -1-1.2 0.2-1.5 2-2 2.8-3.5 1.6-3 -0.4-4 -1.7-5 0.1-1 3.9-2.4 1.5-0.6zM468.3 524.2l0.5 0.7 0.7 7.6 -0.7 0.7 -6 2.5 -3 2.6 -0.7-0.8 -2.8-6.5 -3.8-6 -0.1-1 2.7-1 3.7-0.7zM535.7 541.5l0.1-1.5 1-1.7 1.5-1.1 1.5-0.5 20 0.2 1.3 0.6 0.5 1 -0.3 1 -1.5 0.8 -12 0.3 -1.5 0.3 -0.6 0.6 -1.4 2.7 -1.5 1.1 -1.5 0.4 -2-0.1 -2-1 -1-1.1zM486.1 543l0.2-0.5 1.5-0.5 6.5-1 3.5-0.1 10.2 4.1 5.2 4 2.1 2 -1 0.9 -6.5 2 -5.5 0.5 -1.9 1.6 -3.6 3.9 -1 0.7 -0.4-0.1 -0.6-0.8 -3.4-8.7zM480.8 548.9l1.5-0.1 1.5 0.7 0.9 1 0.6 1.5 -0.1 1.5 -0.6 1.5 -0.9 1 -1.4 0.6 -1.5-0.1 -1.1-0.5 -0.9-1 -0.7-1.5 0-1.5 0.6-1.5 0.9-1zM530 579.5l1.3 0 1.3 1 1 1.5 0 1.5 -1.3 0 -1.3-1 -1-1.5z"/><path fill="#0061ff" d="M569.9 411l0.9-0.7 1.4 0.2 8.3 3.5 1.8 1.2 0.5 0.1 2-0.9 1.5 0.1 1.7 1.5 0.2 2 -1.4 1.4 -2 0.1 -1.5-1 -1-1.7 -2.5-0.5 -9-3.5 -0.9-0.8zM499.8 447.5l0.1-0.5 0.9-0.6 6-0.4 1.7-0.5 0.2-0.5 -0.6-1.5 0-1.5 0.7-1.1 1.5-0.6 1 0.2 2.5 1.7 10.5 2.5 1-0.2 1.2-1.5 4.3-3.3 6 0 8.2 4.8 1.2 1 1.5 2 2.6 1.6 1-0.4 3-3.7 1.5-1 8.1-2 3.9-0.6 1.9 0.1 -6.9 3 -0.4 0.5 -0.5 2.5 -1.1 1 -1.5 0.5 -2.5 0 -1 0.4 -1.6 1.6 -0.8 2.5 -1.1 0.6 -1.5-0.3 -5-3 -8.5-2.5 -3.5-0.6 -4-0.1 -2-0.8 -2.5 0.7 -12-2.9 -1 0.1 -1.8 0.8 -0.4 0.5 -0.2 2 -1.1 0.6 -7.5-0.3 -1-0.2zM502.3 456.9l1 0.4 5.5 5.3 6.5 4.1 24 3.7 1.9 0.6 2.1 1.2 2-1.8 2-0.5 2 1.1 0.8 1.5 2 34.5 -0.4 2.5 -1.4 1.3 -1.5 0.3 -1.5-0.5 -1.2-1.1 -0.6-2 -0.2-5.2 -0.5-0.2 -0.5 0.9 0 1 0.8 2.5 0.2 3 -0.6 1.5 -5.6 2.5 -7.8 2.3 -6.5 3.3 -7.4 2.9 -7 2 -0.6 0.5 0.6 1 6.9 5.5 0.2 1.5 -1.2 1.1 -1.9-0.6 -10-7 -1.8-2.5 -0.8-0.5 -8.8-2 -10.7-3.1 -3.9-3.9 -1.7-3.5 0.3-1.5 2.6-5 5.5-4 3.7-0.8 1.5 0 4 1.1 13.5 0.4 7 2.6 9.5 0.6 3-0.1 0.7-0.3 0.2-0.5 -4.5-5.5 -0.2-0.5 0.3-0.7 1.5 0.4 7.5 6.2 3.5-1.7 1.7-2.2 0.2-1.5 0-9.5 -0.9-4.9 -1-1.1 -1.8 0.5 -4.7 2.7 -1.5 0.3 -9.5-3 -5-1.1 -3-0.1 -5 0.9 -3 0.1 -14-4.7 -1-0.7 -2.8-4.9 0.3-1.2 2.6-5.3 1.1-1 7.3-3.8zM467.3 467.8l1 2 1.5 5.2 -0.3 3 4.3 3.5 0.5 0.2 2-0.5 1.5 0.2 1.5 1 0.9 1.1 0.5 1.5 0.1 1.5 -0.6 1.5 -1.1 1 -1.8 0.4 -1.5-0.4 -2-1.9 -1-3.2 -8.5-4 -3.5-0.8 -1.5-1.2 -0.3-0.9 0.1-1 1.3-1.5 1.9-0.6 3.5 0.4 0.8-0.3 0.2-5.5zM586.5 475l1.1-1 1.7-0.5 5-0.5 5 0.5 1.5 0.5 1.1 1 -0.7 1 -1.3 0.5 -5.6 0.7 -5.8-0.7 -1.3-0.5zM555.8 476.5l1.2-1.5 1.3-0.4 1.5 0 1.9 0.9 0.7 2 -0.2 0.5 -1.1 0.5 -2.8 0.3 -1.8-0.8zM594.3 497.1l2.1 2.9 0.7 1.5 0.4 6 -0.3 2.5 -0.8 0.5 -4.6 1.2 -3 3.4 -2 0.4 -0.5 2.5 -1.5 1.3 -3 0.5 -2.6-0.8 -0.9-1 0.2-1.5 2.8-2.5 3.8-6.5 -0.3-3 -1.5-5.5 1-0.9 3.5-1.9zM467.8 524.6l0.5 0.8 0.7 5.6 -0.2 1.3 -1 0.7 -5 2.1 -2 1.9 -1 0.3 -2.8-6.3 -3.4-5.5 -0.1-1 1.8-0.8 4-0.8zM536.3 541.5l0.2-1.5 0.8-1.4 1.5-1 1.5-0.4 19 0.1 1.1 0.2 0.8 1 -0.4 1 -1 0.4 -13.9 0.6 -0.7 0.5 -1.4 2.9 -1 0.7 -1.5 0.5 -2-0.1 -1.5-0.8 -1.1-1.2zM486.7 543l0.8-0.5 6.8-1.1 3.5-0.1 9.3 3.7 6 4.5 1 1 0.1 0.5 -0.7 0.5 -6.2 2 -5.5 0.6 -4.5 4.7 -1.5 1 -1-1.2 -3.3-8.1 -4.2-6.1zM480.8 549.3l1.5-0.1 1 0.4 1 1 0.6 1.4 0 1.5 -0.6 1.3 -1 1 -1 0.4 -1.5-0.1 -1-0.5 -1.3-2.1 0.3-2.5 0.8-1zM530.8 580l1 0.3 1 1.1 0.3 1.1 -0.3 0.5 -1-0.3 -1-1.1 -0.3-1.1z"/><path fill="#008aff" d="M570.6 411.5l0.7-0.5 8.5 3.5 0.8 0.5 0.2 0.5 -1.1 0 -7-2.5 -1.9-0.9zM583.5 416l1.3-0.9 1.5 0.1 1.2 1.3 -0.1 1.5 -0.6 0.6 -1 0.4 -1.5-0.4 -0.8-1.1zM526.8 444l0.7-1 3.3-2.6 1.5-0.2 4 0.1 7.2 4.2 1 1 0.3 1 5.5 3.3 1-0.4 4-4.8 6.1-1.6 2.8 0 -2.3 1.5 -0.3 2.5 -0.8 1 -1.5 0.7 -3.5 0.2 -2.1 2.1 -0.9 2.2 -1 0.4 -7.5-4.5 -2.5 0.1 -6-1.6 -6.1-0.6 -2.4-1.9zM508.7 442.5l0.6-1.1 1.5-0.3 2 1.6 12.5 3.2 0.5 0.6 -1.5 0 -11-2.8 -3.5 0.8 -1-1zM509.6 447l-0.3 0.9 -1 0.3 -7.1-0.7 0.3-0.5 6.8-0.7 1 0.2zM502.3 457.4l1 0.5 5 4.8 4.5 3.2 2 1 24.5 3.9 1.4 0.7 3.6 4.1 0.5-0.7 0.5-2.7 1-0.9 1-0.1 0.8 0.3 0.8 1.5 2 34 -0.3 2 -0.8 0.7 -1.5 0 -0.9-0.7 -0.3-1 -1.8-24.9 -0.5 3.2 -0.2 13.2 -1.1 5.5 0.5 5.5 -2.7 1.7 -11 3.6 -6.5 3.2 -6.2 2.5 -9 2.5 -0.3 0.5 0.7 1 7 5.5 0.5 1 -0.7 0.6 -1.3-0.6 -9.5-6.5 -1.6-2 -0.8-0.5 -9.3-2.2 -11-3.2 -3.5-3.7 -1.7-3.4 0.2-1.3 2.5-4.9 4.5-3.4 2-0.9 3.5-0.5 4.5 1 13 0.3 7.5 2.8 10 0.5 3-0.2 0.7-0.4 0.1-0.5 -4.1-5.5 0.3-0.3 8 6 3.5-1.7 2.1-2.5 0.3-1.5 -0.1-9.5 -0.9-5 -0.9-1.3 -3.1 0.3 -4.9 2.8 -1.5 0.2 -8.5-2.7 -5.5-1.3 -3 0 -4.5 0.8 -3 0.1 -13.3-4.4 -1.5-1 -2.5-4.5 0.3-1.3 2.6-5.2 1.3-1 6.1-3.1zM459.7 476l1.1-1.2 2-0.5 1.7 0.2 2.3 1.5 0.5-0.2 0.5-3 0.5 0.2 0.8 2.5 -0.2 1 -0.8 0.5 0 0.5 4.1 3.5 0.6 1 -0.2 0.5 -1.3 0.2 -7-3.3 -3.5-0.8 -1.1-1.1zM587.9 475l0.4-0.5 1.5-0.6 4.5-0.5 4.5 0.5 1.7 1.1 -0.1 0.5 -1.6 0.8 -4.5 0.5 -4.5-0.5 -1.5-0.6zM556.4 476.5l0.9-1.2 2-0.4 1.6 0.6 0.7 1.5 -0.7 1 -2.1 0.5 -1.6-0.5 -0.5-0.5zM475.2 482.5l2.1-0.3 1 0.4 1 1 0.7 2.4 -0.3 1 -0.9 1.1 -2 0.3 -1.1-0.4 -1-1 -0.5-1 -0.2-1.5 0.3-1zM593.3 497.9l1.7 2.1 1 2 0.4 5 -0.3 2 -0.8 0.6 -3.5 0.9 -3 3 -2.5 0 -3-0.7 -0.1-0.8 2.2-4 0.4-1.5 -0.4-3 -0.9-3 0.2-1 3.6-2zM578.9 517l0.8-1 1.1-0.7 2-0.3 2 0.7 0.8 0.8 0.2 1 -0.5 1 -0.7 0.5 -2.8 0.5 -2.5-1zM454.8 525l1-0.6 3.5-0.7 7.5 1.3 0.9 1 0.6 5.5 -1 1 -4 1.6 -2.5 2.1 -0.5 0.1 -2.8-5.8 -2.7-4.5zM537 541.5l0.2-1.5 0.7-1 0.9-0.7 1.5-0.4 18.5-0.2 1.5 0.3 0.3 0.5 -0.3 0.7 -1 0.3 -14 0.6 -0.7 0.4 -1.3 2.9 -2 1.1 -1.5 0 -1.5-0.7 -1-1.3zM487.5 543.5l0.3-0.5 8.5-1.4 1.5 0.2 9 3.6 5.3 4.1 0.8 1 -1.1 0.9 -5.1 1.6 -5.4 0.8 -4.5 4.6 -1 0.4 -1-1.5 -2.8-6.8zM480.8 549.8l1-0.2 1.3 0.4 1 1 0.4 1 -0.1 1.5 -0.4 1 -1.7 1.2 -2-0.3 -0.9-0.9 -0.4-1 -0.1-1 0.4-1.5z"/><path fill="#00b2ff" d="M584.8 416l1-0.1 0.8 0.6 0.1 1 -0.4 0.5 -1 0.1 -0.9-0.6 -0.1-1zM528 444l0.7-1 2.6-2 4-0.1 6.7 4.1 0.2 1 -0.8 2 -1.1 0.1 -5-1.1 -5-0.5 -1.8-1.5zM509.7 442.5l0.6-0.4 0.6 0.4 0.1 0.5 -0.7 0.5 -0.5-0.3zM560.7 444.5l0.4 2 -0.5 1 -1.8 0.8 -3 0.1 -2.9 2.6 -0.8 1.5 -0.9 0 -1.9-1.5 2-0.6 4-5.4 4.5-0.9zM489 465.5l7.3-4 5-3.3 1-0.3 1 0.6 5 4.7 5.5 3.7 22 3.5 3.5 1.1 3.6 4 1.1 2.5 -0.1 21.5 -1.3 6.5 0.2 4.5 -1.3 1 -3.4 1.5 -8.3 2.5 -13.4 6 -10.6 2.6 -3.6-1.6 -8.9-2 -9-2.5 -2.1-1 -3.2-3.5 -1.5-3.5 2.6-5.5 5.7-4 4-0.6 5 1 12 0.1 7.5 2.7 12 0.6 2-0.3 0.8-0.5 -0.2-1 -1.6-2.7 2 1.2 2.5 2.1 1 0.4 3.9-2 1.9-2 0.4-1 0.1-10 -1.2-6 -0.6-0.9 -1.5-0.3 -3 0.3 -2.2 0.9 -2.8 1.7 -1 0.2 -2.3-0.4 -8.7-2.7 -3.5-0.7 -2.5 0 -6.5 1 -1.5-0.3 -12-4 -1.3-0.8 -2.5-4.5 0.3-1.2zM546.8 473.2l0.6 0.3 1.9 31.5 0 2.5 -0.5 0.3 -0.5-2.9 -1.5-26.4zM589.5 475l1.8-0.9 3-0.3 3 0.3 1.6 0.9 -0.2 0.5 -1 0.5 -3.4 0.4 -3.6-0.4 -1-0.5zM460.5 476l1.3-1 2.5 0 6.3 6 -1.3 0 -5-2.1 -3-0.7 -1-1.2zM557.1 476.5l0.7-0.9 1.5-0.2 1.4 0.6 0.2 1 -0.6 0.7 -1.5 0.4 -1.4-0.6zM475.8 483.4l1.5-0.2 1.1 0.8 0.6 1.5 -0.7 1.6 -1.5 0.3 -1.3-0.9 -0.5-1.5zM592.3 499.2l1.1 0.8 1.4 2.5 0.3 4 -0.2 1.5 -3.6 1.3 -1.5 1.7 -1 0.6 -4-0.5 0-1 1.9-4.1 -1-4.5 0.2-1 2.4-1.4zM579.5 517.5l0.8-1.3 2-0.6 2 0.6 0.8 1.3 -0.8 1.1 -2 0.5 -2-0.5zM466.3 525.6l0.7 0.9 0.5 3.5 -0.2 1.4 -4 1.9 -2 1.6 -0.6 0.1 -4.6-8.5 0-1 2.2-0.8 2-0.2zM537.8 541.5l0.3-1.5 1.1-1 4.1-0.8 16.1 0.3 -1.9 0.5 -13.2 0.7 -0.8 0.8 -0.7 2.3 -1 0.7 -1 0.3 -2-0.6zM488.4 544l0.4-0.6 2-0.5 5.5-0.8 1.5 0.2 8 3.2 4.6 3.5 1 1 0 0.5 -5.6 2 -4.5 0.6 -4.5 4.3 -1 0.3 -0.8-1.2 -2.7-6.5zM480.8 550.3l1-0.2 1 0.3 1.2 1.6 -0.3 2 -1.4 1.2 -1.6-0.2 -1.2-1.5 0.1-2z"/><path fill="#00dbff" d="M529.3 444l0.7-1 1.8-1.2 2.5-0.1 1.1 0.3 4.1 2.5 0.4 1 -0.6 1.3 -1.1 0.2 -6.9-1.1 -1.5-0.9zM560.3 445.5l0.2 1 -0.8 1 -1.4 0.4 -2-0.3 -3 1.7 0.9-2.3 1.6-1.8 3-0.5zM489.3 465.9l7.5-4.2 4-2.7 1.5-0.5 5.5 5 5.2 3.5 3.3 0.8 16 2.2 4.4 1 1.1 0.6 2 2.5 2.5 1.5 1 1.4 0.3 1.5 -0.2 21 -0.8 4.5 -1.9 7 -3.9 2 -8.4 2.5 -7.2 3.5 -6.3 2.5 -7.6 1.6 -2-0.1 -12-2.8 -9-2.6 -2-1.1 -3.1-3.5 -1.1-2.5 0.1-1 2.6-5 5.5-3.8 3.5-0.4 5 0.9 12 0.1 7 2.6 8.5 0.6 4.5-0.1 2.4-0.4 0.6-0.5 0-1 2.5 1.3 1-0.2 3.8-2.1 2-2 0.4-1 0.1-10 -1.3-6 -0.5-1 -2-0.4 -5 0.3 -4.1 2.1 -1.4 0.3 -10-2.9 -3.5-0.6 -2.5 0 -6 0.9 -1.5-0.2 -11.7-4 -1.3-0.9 -1.9-3.1 -0.3-1.5zM591.5 475l0.8-0.5 2-0.2 1.8 0.2 0.8 0.5 -0.3 0.5 -2.3 0.4 -2.5-0.4zM461.1 476.5l1-1 1.7-0.1 0.9 0.6 1 2 -0.4 0.3 -3-0.3 -0.8-0.5zM558 476.5l0.5-0.5 0.8-0.1 0.7 0.6 0 0.5 -1.2 0.5 -0.8-0.5zM476.8 484.5l0.8 0.5 0.1 0.5 -0.4 0.6 -0.5 0 -0.5-0.6 0-0.6zM591.8 500.8l0.9 0.7 0.8 1.5 0.2 3.5 -0.4 0.5 -2 0.8 -2 1.5 -2.5-0.1 -0.3-0.7 1.2-3 -0.4-3.8 2-1.1zM580.3 517.5l0.6-1 1.4-0.4 1.4 0.4 0.6 1 -1 1 -1 0.1 -1-0.1zM457.4 526.5l0.9-0.7 2.5-0.5 5 1 0.5 0.7 0.3 3.5 -0.8 0.8 -4.5 2.3 -0.7-0.6zM540.3 539.5l1.5 0.3 0.6 1.2 -0.6 1.5 -1 0.4 -1.4-0.4 -0.6-1 0.5-1.5zM489.7 544l1.1-0.5 3.5-0.6 3.5-0.1 7 2.9 3.9 2.8 1.1 1.5 -0.5 0.5 -4.4 1.5 -4.1 0.6 -4 3.8 -0.9 0.1 -0.6-0.8 -2.6-6.2 -3-4.5zM481.3 550.8l1.5 0.3 0.7 1.4 -0.4 1.5 -1.3 0.7 -1.5-0.7 -0.4-1 0.3-1.5z"/><path fill="#05fffa" d="M530.7 444l1.1-1.2 1.7-0.3 2.9 1.5 0.8 1 -0.2 0.5 -0.7 0.2 -4-0.4 -1-0.3zM555.5 446.5l0.3-0.5 2-0.7 1 0 0.8 0.7 -0.3 1 -1 0.3zM489.9 466l5.9-3.2 5.1-3.3 1.4-0.3 5 4.6 5 3.4 4 0.9 14.5 2 4.1 0.9 1 0.5 2.9 3.4 2 0.4 1.3 0.7 0.8 1 0.3 1.5 -0.4 21.5 -0.4 3 -1.1 4 -2.2 4 -3.8 2 -8 2.4 -6.5 3.2 -6 2.4 -7 1.5 -2.5 0 -11.5-2.6 -9-2.4 -1.8-1 -3.2-3.5 -1-2.5 0.1-1 2.4-4.7 5.5-3.7 3-0.3 5.5 0.7 11 0.1 7 2.6 9 0.5 4.5-0.1 2.5-0.3 1.5-0.5 1.5 0.4 1-0.2 4-2.3 2.4-2.2 0.4-1 0-10 -1.8-7 -2-0.6 -6.5 0.1 -1.6 0.5 -2.5 1.5 -1.4 0.2 -12.5-3.3 -2.5 0 -6.5 0.9 -1.5-0.4 -10.5-3.5 -1.5-0.9 -1.8-3 -0.3-1.5zM462.2 476.5l1.1-0.4 0.5 0.4 0.1 0.5 -1.1 0.3 -0.5-0.3zM590.8 502.2l0.6 0.3 0.6 1 0 2 -2.2 1.5 -0.9 0 -0.2-0.5 0-3.5 1.1-0.7zM581.4 517.5l0.2-0.5 0.7-0.2 0.7 0.2 0.2 0.5 -0.9 0.5zM459.3 527l2-0.7 3.5 0.6 0.6 0.6 0.2 2.5 -0.4 0.5 -3.4 1.7 -0.5-0.3 -2-3.9zM540.2 541l0.6-0.2 0.2 0.7 -0.7 0.1zM490.7 544.5l0.9-0.5 2.7-0.5 3.5-0.1 6.2 2.6 3.4 2.5 0.7 1 -0.3 0.5 -2.7 1 -4.8 0.9 -3 3 -1 0.4 -1-1.3 -2.2-5 -2.3-3.5zM481.8 551.4l0.5 0.2 0.6 0.9 -0.3 1 -0.8 0.5 -1-0.5 -0.3-1 0.3-0.6z"/><path fill="#2effd1" d="M532.6 444l1 0 -0.3 0.3zM490.3 466.4l11.5-6.6 1 0.5 4 3.9 5 3.3 21.3 3.5 0.9 0.5 3.3 3.9 3.5 0.4 1 0.4 0.8 1.3 0.2 1.5 -0.7 10 0 13 -1.2 5 -2.6 3.9 -1.5 0.9 -10.1 3.2 -6.2 3 -6.3 2.5 -6.9 1.6 -2 0 -7.6-1.6 -12.4-3.3 -1.5-0.7 -3.4-3.5 -0.8-2.5 0.1-1 2.3-4.5 5.1-3.5 2.2-0.2 6 0.6 10.5 0.1 6 2.2 2.5 0.4 8 0.3 8.5-0.5 1.5 0.2 1-0.2 1.9-1.4 2.3-1 3-2.5 0.3-1 0-10 -1.8-6.5 -0.7-0.9 -2.5-0.4 -6.5-0.1 -2 0.4 -4 1.6 -12-3 -2.5-0.1 -6 0.8 -1.5-0.3 -10.4-3.5 -1.1-0.8 -1.6-2.7 -0.4-1.5zM460.9 528l0.9-0.6 2 0.2 0.8 0.9 -0.1 1 -2.2 1.2 -1-1.2zM491.7 545l0.7-0.5 1.9-0.4 3.5 0 4.8 1.9 2.8 2 0.8 1 -0.2 0.5 -1.7 0.7 -4.5 1 -2.5 2.4 -1 0.3 -4.3-7.9z"/><path fill="#57ffa8" d="M488.5 471.5l2.5-5 5.3-2.8 4.5-2.9 1-0.3 1 0.6 3.5 3.5 4.5 3 20.4 3.4 1.4 1 2.8 3.5 5.9 0.9 0.7 0.6 0.4 1.5 -0.6 7.2 -0.5 0.7 -0.5-0.5 -1.5-4.4 -0.5-0.6 -1-0.2 -10-0.3 -2.5 0.3 -2.5 1.1 -1 0.1 -11-2.7 -3.5 0 -4.5 0.6 -1.5-0.2 -10.5-3.6 -2-3zM541.6 501l-0.1 2.5 -0.9 3.5 -3.3 4 -12.3 4 -7.2 3.4 -5 1.9 -5.5 1.3 -2.5 0 -5.5-1.1 -14.5-3.9 -3.6-3.6 -1-2.5 0.4-1.5 1.9-3.5 3.8-2.9 1.5-0.7 5 0 2.5 0.5 10 0 5.6 2.1 2.4 0.4 7.5 0.3 11.5-0.2 1-0.2 1.5-1.3 2.5-1 3-2 1-0.1zM492.9 545.5l1.4-0.6 2.5-0.2 1.5 0.2 3.7 1.6 1.9 1.5 0.3 1 -2.3 1 -2.6 0.5 -2.5 2 -1-1z"/><path fill="#80ff80" d="M489.2 471.5l1.6-3.7 1-1.2 4.5-2.3 4.5-2.9 1-0.1 4.5 4 4.1 2.7 18.1 3 2.1 1 2.7 3.5 8 1.4 0.7 1.6 -0.4 4 -0.3 1.1 -0.5 0 -1.2-2.6 -0.8-0.5 -12.5-0.4 -2.5 0.2 -3.5 0.9 -10.5-2.5 -3 0 -5 0.5 -10.5-3.5 -1.8-2.7zM541.2 502l-0.1 2 -0.9 3 -2.9 3.6 -12.9 3.9 -10.1 4.5 -7.5 2.1 -2.5 0 -5-1.1 -13.3-3.5 -1.2-0.7 -3-2.9 -1-1.9 0.2-1.5 2.3-3.9 5-3.2 4.5 0 3 0.5 9 0 5.5 1.9 2 0.4 20 0.5 1-0.3 2-1.9 2.5-0.9 2-1.3 1-0.1zM494.2 546l2.6-0.6 1.5 0.2 2.9 1.4 0.9 1 0 0.5 -5.3 2.4 -2.4-3.9z"/><path fill="#a8ff57" d="M489.9 471.5l1.4-3.3 1-1.2 4.5-2.3 3.5-2.4 1.4-0.3 4.1 3.6 4 2.7 16.3 2.7 2.1 1 2.5 3.5 10.1 1.8 0.6 0.7 -0.1 2.4 -0.5 1 -1.5-1.3 -15-0.4 -5.5 0.9 -9.5-2.3 -2.5-0.1 -5 0.5 -9.9-3.2 -1.7-2.5zM540.7 502.5l-0.1 2 -0.7 2.5 -3.1 3.5 -14 3.9 -6.8 3.1 -5.2 1.9 -4.5 1.2 -2 0 -5-1.1 -12.5-3.2 -5-4 -0.6-1.3 0.3-1.5 1.4-1.5 1.2-2 4.7-3.1 4 0 3 0.5 8.5 0 7 2.1 6 0.3 9-0.1 6 0.8 1-0.3 1.3-1.7 1.2-0.9 2-0.6 2-1.1 0.5 0zM495.6 547l0.7-0.7 1.5 0 1.5 0.7 0.6 1 -2.1 1.1 -1 0z"/><path fill="#d1ff2e" d="M490.5 471.5l2.1-4 4.2-2.2 3.5-2.3 1-0.3 1 0.5 3 2.9 3.7 2.4 14.8 2.5 2.2 1 1.2 1.5 0.9 2 10.2 1.5 2 0.9 0.4 0.6 -0.4 0.8 -2.5 0.7 -14-0.6 -5.5 0.5 -3-0.4 -6.5-1.7 -7.5 0.3 -9-3 -1.4-2.1zM540.3 503.5l-0.8 3.5 -2.7 3.2 -15.5 3.9 -11 4.6 -4.5 1.1 -2 0.1 -4.5-0.9 -11.7-3 -1-0.5 -2.3-2.1 -2-1.1 -0.8-1.3 0.3-1.3 1.8-1.2 1.7-2.4 4-2.7 4 0.1 2.5 0.4 8 0.1 6 1.8 6 0.4 10-0.1 4.5 1.1 3.5-0.6 1.2-2.1 1.3-0.8 3.5-1z"/><path fill="#faff05" d="M491.3 471.5l2-3.8 7-4.1 1-0.1 3.5 3.1 3.5 2.2 13.2 2.2 2.2 1 1.2 1.5 0.8 2 3.1 0.7 9 1 1 0.3 0.8 1 -0.8 1 -1.5 0.3 -13.5-0.7 -8.5 0 -7-1.7 -7 0.2 -8.1-2.6 -1.6-2zM539.8 504l-0.5 2.8 -2.2 2.7 -0.8 0.6 -16.5 3.7 -10.5 4.3 -4.5 1 -6-0.8 -10.9-2.8 -3-2.5 -2.4-1 -0.7-1 0.5-1.3 2-0.9 1.7-2.3 3.8-2.5 6.5 0.5 7 0.1 6 1.6 14 0.4 2 0.2 1.5 0.8 1.5 0.3 5.6-0.9 0.6-0.5 0.5-1.5 1.3-1 3-0.6z"/><path fill="#ffdb00" d="M492 471.5l1.8-3.3 7-3.9 1 0.4 3 2.8 2.6 1.5 9.3 1.5 4.2 1 1.5 1.5 0.4 2 1.5 0.9 13.5 1.5 1 0.5 0.3 0.6 -0.8 0.9 -1.5 0.2 -17.5-0.9 -2-0.4 -2.5 0.2 -8.5-1.7 -5.5 0.1 -7.3-2.4 -1.1-1.5zM539.4 505l-0.6 1.9 -2.5 2.8 -18.3 3.8 -9.7 4 -4.5 0.9 -5-0.6 -9.5-2.4 -1.5-0.8 -1.7-1.6 -3.3-1.2 -0.6-0.8 0.3-1 2.8-1 2-2.5 3-1.9 12 0.5 6.5 1.6 12.5 0.3 2 0.4 1.2 1.1 1.3 0.1 8.5-1.3 0.5-0.5 0.7-1.8 0.8-0.6 2.5-0.3z"/><path fill="#ffb200" d="M492.9 471.5l1.7-3 6.2-3.4 1 0.6 2.5 2.3 2 1.2 12.1 2.3 0.9 0.5 0.8 1 0.7 2.5 1.1 0.5 4.4 0.7 11 0.9 1 0.3 0.3 0.6 -0.3 0.6 -1 0.2 -17.5-0.9 -3-0.7 -4.5-0.2 -6.5-1.2 -5 0.1 -6.5-2.1 -1.1-1.3zM538.9 505.5l-0.3 1 -1.3 1.2 -0.7 1.3 -0.8 0.6 -20 3.7 -8 3.4 -4.5 1 -2 0 -6-1.3 -6.4-1.9 -2.4-2 -3.2-0.9 -0.7-0.6 0-0.5 0.7-0.5 2.5-0.5 0.9-0.5 1.6-2.1 2-1.4 1-0.2 10.5 0.4 5.5 1.4 11.8 0.4 2 0.5 0.7 1.1 1.5 0.4 3.5-0.4 7.5-1.4 1.1-0.7 0.4-1.8 1-0.6 1.5 0 0.5 0.4z"/><path fill="#ff8a00" d="M493.7 471.5l1.4-2.5 4.7-2.7 1-0.2 2.2 1.9 2.4 1.5 10.9 2.3 1.8 2.7 2.7 1.8 16.5 1.6 0.8 0.6 -1.3 0.5 -17-0.9 -3-0.9 -6-0.5 -5-0.9 -5.5-0.1 -5.3-1.7 -0.9-1zM536.3 507.3l-0.3-1.3 0.3-0.6 1-0.4 1 0.5 -0.5 1.2zM483.2 511l0.1-0.5 4.2-1 1.8-2.2 2.5-1.4 9.5 0.3 4.5 1.3 11.1 0.5 1.3 0.5 1.2 1.5 1.4 0.4 5.5-0.6 9.5-2.1 0.5 0.3 -0.4 1 -22.1 4.1 -7 2.8 -4.5 1.2 -7-1.3 -4-1.1 -1.7-0.7 -1.8-1.5z"/><path fill="#ff6100" d="M494.6 471.5l1.2-2.1 4.6-2.4 4.4 2.9 5.8 1.1 3.1 1 2.2 2.5 2.9 1.2 1.5 1.1 4.4 0.7 -5.4 0.1 -2-0.8 -3-0.4 -6-0.4 -3.5-0.7 -4.5-0.2 -4.9-1.6 -0.7-1zM485.4 511l3.4-1.4 1.4-1.6 1.6-1.1 1.5-0.2 7 0.1 4.5 1.2 9.4 0.5 1.3 0.5 0.5 1 2 1 0.1 0.5 -6.8 1.4 -5.1 2.1 -4.9 1.3 -9.5-2.1 -3.4-2.2z"/><path fill="#ff3800" d="M495.4 471.5l0.9-1.6 4-2 3.5 2.2 7.4 1.9 1.7 2 2.8 1.5 -0.9 0.2 -6.5-0.3 -8-0.8 -4-1.3 -0.8-0.8zM488.6 511l1.6-1 1.7-2 1.9-0.6 6 0.1 3.5 0.9 7.4 0.6 1.6 0.7 1.1 1.3 -0.3 0.5 -12.3 3.9 -5-0.8 -3.5-1z"/><path fill="#ff0f00" d="M496.3 471.5l1-1.4 2-1.2 1 0 2.7 1.6 5.5 1.5 0.7 0.5 0.8 1.5 -0.7 0.4 -1.5 0.1 -7.5-0.5 -3.3-1 -0.5-0.5zM491.1 511l1.3-2 1.9-0.8 4.5 0.1 3.4 0.7 5.1 0.4 1.7 0.6 0.6 1 -0.4 0.5 -5.9 2.1 -3.5 0.8 -3.5-0.4 -3.2-1 -1.4-1z"/><path fill="#e50000" d="M497.2 471.5l0.8-1 1.8-0.8 5.6 2.3 0.7 1 -1.3 0.5 -5-0.2 -2.3-0.8zM492.9 511l0.8-1.5 1.6-0.5 9.5 1 0.9 0.5 0.1 0.5 -0.5 0.5 -3 1.1 -3.5 0.9 -2.5-0.2 -2-0.7 -0.9-0.6z"/><path fill="#bd0000" d="M498.3 471.5l0.5-0.5 1-0.2 2.6 1.2 -0.4 0.5 -2.2 0.1 -1.4-0.6zM494.5 511l0.7-1 1.1-0.1 4.6 0.6 0.8 0.5 -1.4 1.2 -2.5 0.5 -2.5-0.6z"/></g><path d="M488.8 468.5h56v42h-56v-7h49v-28h-49z" fill="none" stroke="#000" stroke-width="2"/><path d="M488.8 468.5h56v42h-56v-7h49v-28h-49z" fill="none" stroke="#fff" stroke-width="1.5" stroke-dasharray="4.6 2.5"/>
<path d="M376.8 629.5v-280.0h280.0" fill="none" stroke="#d8d8d0" stroke-width="0.6"/>
<path d="M376.5 629.5h280.3v-280.3" fill="none" stroke="#2a2a30" stroke-width="0.9"/>
<path d="M446.8 629.5v-3M446.8 349.5v3M376.8 559.5h3M656.8 559.5h-3M516.8 629.5v-3M516.8 349.5v3M376.8 489.5h3M656.8 489.5h-3M586.8 629.5v-3M586.8 349.5v3M376.8 419.5h3M656.8 419.5h-3" stroke="#262626" stroke-width="1" fill="none"/>
<text class="t" transform="translate(375.8 651.5) scale(1.000 1.100)" text-anchor="middle">-20</text>
<text class="t" transform="translate(370.8 634.7) scale(1.000 1.100)" text-anchor="end">-20</text>
<text class="t" transform="translate(445.8 651.5) scale(1.000 1.100)" text-anchor="middle">-10</text>
<text class="t" transform="translate(370.8 564.7) scale(1.000 1.100)" text-anchor="end">-10</text>
<text class="t" transform="translate(516.8 651.5) scale(1.000 1.100)" text-anchor="middle">0</text>
<text class="t" transform="translate(370.8 494.7) scale(1.000 1.100)" text-anchor="end">0</text>
<text class="t" transform="translate(586.8 651.5) scale(1.000 1.100)" text-anchor="middle">10</text>
<text class="t" transform="translate(370.8 424.7) scale(1.000 1.100)" text-anchor="end">10</text>
<text class="t" transform="translate(656.8 651.5) scale(1.000 1.100)" text-anchor="middle">20</text>
<text class="t" transform="translate(370.8 354.7) scale(1.000 1.100)" text-anchor="end">20</text>
<text class="l" transform="translate(516.1 674.7) scale(1.000 1.060)" text-anchor="middle">x (cm)</text>
<text class="l" transform="translate(346.8 490.2) rotate(-90) scale(1.000 1.060)" text-anchor="middle">y (cm)</text>
<text class="p" transform="translate(383.2 378.4)" text-anchor="start">(e)</text>
</g>
<g>
<rect x="708.3" y="349.5" width="280" height="280" fill="#000080"/>
<g fill-rule="evenodd"><path fill="#0000bd" d="M892.8 438.2l0.8 3.3 0.5 6 -0.5 1 -4.8 1.4 -4.5-0.8 -2-0.7 -0.4-0.9 0-3 -0.5-2.5 0-2.5 0.4-1 1.5-0.5 8.5-0.1zM837 447.5l1.3-1.3 2-0.6 2.5 0 1.3 0.9 -0.2 1 -0.6 0.5 -2.5 0.8 -2.5 0 -1-0.6zM904.3 461.5l0.4-0.5 1.1-0.5 2.5-0.3 2.5 0.3 1.1 0.5 0.4 0.5 -0.4 0.5 -1.1 0.5 -2.5 0.3 -2.5-0.3 -1.1-0.5zM771.8 479.5l0.4-1 5.6-5.2 6.2-11.8 0.8-0.6 15-0.1 4.8 4.7 3.7 6.8 7 3.2 1.7 2 0.5 1.5 -1.8 3.5 -1.6 2 -9.3 3.7 -3-0.9 -1-0.8 -1.3-2 -1.2-3.2 -1-0.9 -3.5-0.6 -2.9 0.2 -8.6 3.3 -3.5 1 -2-0.8 -4.5-3.3zM869.1 474l0 1 -1.1 1.5 -4.2 2.3 -2.5 0.7 -2 0.1 -1.5-0.3 -0.9-0.8 0-1 1.1-1.5 3.8-2.3 2.5-0.7 2.5-0.2 1.5 0.4zM889.6 482l1.7-1.2 2.5-0.4 2.5 0.4 1.7 1.2 -0.2 0.7 -1 0.8 -3 0.5 -3-0.5 -1-0.8zM802.8 492l1 0.4 0.9 1.6 0.3 2 -0.2 2.5 -1.5 4 -1 1.1 -1.5 0.3 -1-0.8 -0.5-1.2 -0.3-1.9 0.2-2.5 0.6-2.2 0.9-1.8 1.1-1.1zM910.6 495.5l1.2-0.1 0.4 0.6 -0.2 0.5 -1.2 0.1 -0.4-0.6zM804.8 504.2l0.5 0.1 0.5 0.7 0.2 3 2.8 0.8 0.6 0.7 0 0.5 -0.7 1 -1.9 1.1 -1.5 0.4 -2 0 -1.2-0.5 -0.3-1 1.1-2 0.7-3.5zM868.4 508l0.1 0.5 -0.5 1 -4.2 4 -6.5 3.9 -7.5 1.5 -1.5 0 -0.6-0.4 -0.1-1 3.6-7 0.6-0.7 7-3.6 1.5-0.3 6.5 1.3zM776.2 516l1.1-1 1.5-0.6 1.5-0.2 1.5 0.3 1.5 1 0.8 1 0.3 1 -0.1 1.5 -1 1.5 -1.5 1 -1.5 0.3 -2-0.3 -1.6-1 -1-1.5 -0.1-1.5zM791.8 525.2l8-0.3 5 3.1 0.9 1 0.2 1 -1.2 5.5 -5.9 4.2 -1.5 0.7 -1.5-0.3 -5-2.1 -1.3-2 -2.2-5 -0.1-1 1.1-1.5z"/><path fill="#0000e6" d="M882.3 439l2-0.4 7-0.1 1 0.4 1.1 7.6 -0.4 1.5 -4.2 1.2 -5.7-1.2 -0.6-1 -0.5-5zM837.9 447.5l1.1-1 1.8-0.5 2 0.3 0.5 0.7 -1 0.9 -2 0.5 -1.5-0.1zM906.4 461.5l1.9-0.6 1.9 0.6 -1.9 0.6zM772.9 479l1.1-1.5 4.5-4 6-11.5 0.8-0.5 13.5-0.2 1 0.2 4.4 4.5 3.5 6.5 7.1 3.4 1 1.1 0.7 1.5 -0.2 1 -3 4.5 -5 2.3 -4 1.1 -2.5-0.9 -1-0.8 -2.5-5.2 -1-0.7 -3.5-0.5 -2.5 0.1 -9 3.4 -3 0.8 -2-0.8 -4-3.1zM867.7 474.5l-0.2 1 -0.9 1 -2.8 1.6 -3.5 0.6 -1.4-0.2 -0.6-0.5 0.1-1 0.9-1 3-1.7 3.5-0.6 1.5 0.3zM891.8 482l0.8-0.5 1.2-0.2 1.2 0.2 0.8 0.5 -0.5 0.7 -1.5 0.4 -1.5-0.4zM801.8 498.2l0-0.3 0.3 0.1zM804.8 506.2l0 1.3 -0.5 0.6 -0.2-1.1 0.2-0.6zM867.8 508.5l-0.8 1.5 -3.7 3.3 -6.5 3.9 -7 1.2 -1.5-0.4 0.2-1.5 3.3-6 1-0.9 5-2.5 2-0.7 1 0 6 1.4zM803.4 511l0.5-1 0.9-0.8 2.5 0.3 0.5 0.5 -0.8 1 -1.2 0.5 -1.5 0.1zM792.3 525.6l7.5-0.1 4.7 3 0.7 1.5 -0.8 4.5 -0.6 1 -6.5 4.2 -1.5-0.3 -4.6-1.9 -1.5-2.5 -1.8-4 0-1 2.9-3.3z"/><path fill="#000fff" d="M883.3 439.5l8.2 0 0.7 4 0.1 3.5 -3.5 1.2 -5-1.1 -0.4-0.6 -0.6-6zM842.3 447l-0.5 0.5 -1 0.3 -1.8-0.3 0.2-0.5 1.6-0.5zM815.3 478.5l-2.5 4.5 -4.5 2.8 -4 0.6 -2-0.4 -1.5-1 -2.2-4.5 -1.3-1.2 -3-0.5 -2.5 0.1 -9 3.3 -2.5 0.5 -2-0.7 -3.3-2.5 -0.7-1 0.7-1 4.7-4.5 5.6-10.5 1.5-0.4 12-0.1 1.2 0.5 3.5 3.5 3.5 6.5 6.8 3.5 1.3 1.5zM865.4 475l0 1 -2.1 1.3 -2 0.3 -1-0.6 0.7-1 1.8-1 1.5-0.2zM867 508.5l0.1 0.5 -0.7 1 -3.3 3 -5.8 3.6 -7 1.3 -1 0 -0.5-0.4 0.4-1.5 3-5.5 7.1-3.6 1-0.1zM788.4 530l3.9-3.8 6.5-0.3 1.5 0.4 4 2.8 0.3 0.9 -0.5 3 -0.7 2 -5.1 3.5 -1.5 0.6 -5.5-2.2 -2.6-5.4z"/><path fill="#0038ff" d="M884.9 441.5l0.6-0.5 0.8-0.1 3.5 0.2 0.7 2.9 -0.2 1.3 -2 0.7 -2.8-0.5 -0.4-1zM776.2 478l5-5 5.1-9.6 1.5-0.4 10.5-0.1 1.5 0.5 3 3 3.4 6.1 1.4 1 4.3 2 1.2 1 0.6 1.5 -1.8 3.5 -2.3 3 -1.3 0.9 -1 0.2 -2.5-0.5 -2 0.1 -1.5-0.6 -1-1.2 -2-3.8 -1.5-0.9 -4.5-0.4 -9 3.2 -2 0.3 -1-0.3 -2.7-2zM866.4 509l-0.5 1 -3.3 3 -5.8 3.5 -6.5 1 -1-0.5 0.5-1.5 2.9-5 5.6-2.9 1.5-0.4 1.5 0.1 4.5 1.1zM789.2 530l3.6-3.4 5.5-0.2 2.1 0.6 2.9 2 0.6 1 -1.1 4.6 -4.5 3.2 -1.5 0.6 -5-1.9 -2.5-5z"/><path fill="#0061ff" d="M778.7 477.5l0.5-1 3.7-3.5 4.4-8.5 2-0.5 9-0.1 1.4 0.6 2.4 2.5 3.1 5.5 5.5 3 0.9 1 0.3 1 -1.6 3.2 -0.8 3.3 -1.1 1 -1.1 0.2 -1-0.2 -2-1.3 -2 0.1 -1-0.3 -3-4.4 -1.5-1 -2.5-0.4 -2 0.1 -6 2.2 -3 0.7 -1.9-0.7 -2.1-1.6zM865.5 509l-0.2 1 -2.6 2.5 -5.5 3.5 -5.9 1 -1 0 -0.4-0.5 2.9-5.6 5-2.7 2.5-0.6zM793.3 527.1l5.5-0.1 3.1 2 1 1.5 -0.6 3 -0.5 0.9 -5 3.2 -4.5-1.6 -2-3.9 -0.4-1.6 1.9-2.4z"/><path fill="#008aff" d="M781.3 476.5l3.5-3.5 4-7.6 2-0.7 3 0.5 4.5 0 1 0.4 2 2.2 2.8 4.7 4.3 2.5 1 1 0.2 1 -0.5 2.5 0.4 3.5 -0.9 1.5 -0.8 0.4 -1-0.1 -3-2.8 -2 0.3 -1-0.4 -2.5-3.3 -2-1.2 -3.5-0.2 -5.5 1.9 -2.5 0.4 -3-1.8 -0.6-0.7zM864.7 509.5l-0.5 1 -2.1 2 -4.8 3.1 -5 0.9 -1.5-0.2 0.2-1.3 2.2-4 4.6-2.5 1.5-0.5 4.5 0.9zM790.9 530.5l2.4-2.5 4-0.4 1.5 0.4 2.8 2 0.2 1 -1 3 -3 2.2 -1.5 0.4 -3.5-1.3 -1.7-3.3z"/><path fill="#00b2ff" d="M789.4 466l0.9-0.6 1-0.1 2.5 1.2 4 0 1.5 0.8 3.5 5.2 3.2 1.5 1.5 1.5 1.6 7 -0.4 1.5 -0.9 0.5 -1-0.1 -3.5-4.4 -2 0.5 -1-0.3 -2.5-2.6 -1-0.5 -4-0.5 -5.5 1.6 -1.1-0.2 -1.6-1 -0.5-1 3.3-4 1.4-3zM863.7 510l-2.2 2.5 -4.7 2.9 -4 0.5 -1-0.1 -0.3-0.3 0.5-1.5 1.8-3 5-2.5 1.5 0.1 3 0.8zM793.8 528.8l3.5-0.3 2.5 1.4 0.7 1.1 -0.8 2.5 -3 2 -1.4-0.1 -1.9-0.9 -1.1-2 -0.4-1.5 0.6-1z"/><path fill="#00dbff" d="M790.2 466l1.6 0 2 2 4.5 0.3 1.2 1.2 1.9 3 3.4 1.2 1.2 0.8 0.9 1.5 1.8 6 0.1 1 -0.5 0.9 -1 0.3 -1-0.6 -2.5-4.5 -1-1.1 -3 0.4 -3-1.7 -4-0.7 -3.5 0.6 -1.5-0.8 -0.3-0.8 2.3-3.1 -0.2-4.9zM862.5 510l-0.1 1 -1 1 -4.1 2.7 -3.5 0.6 -1.3-0.3 0.1-1 1.4-2.5 3.3-1.9 2-0.6zM794.3 529.7l2.5-0.2 1.5 0.7 0.8 1.3 -0.6 1.5 -2.2 1.4 -2-0.5 -0.7-0.9 -0.5-1.5 0.4-1z"/><path fill="#05fffa" d="M790.5 466.5l0.8-0.1 0.5 0.3 2 2.8 4 0.4 2.5 2.9 5.2 1.7 0.9 1.5 1.9 6 -0.2 1.5 -0.8 0.2 -0.5-0.2 -3-5.5 -1-0.9 -3.5-0.1 -4.5-0.9 -3.9-1.6 0.1-2.5 -0.9-4.5zM861.5 510.5l0 0.5 -0.9 1 -3.3 2.2 -1.5 0.4 -2.2-0.1 0-1 0.8-1.5 1.9-1.5 2.5-0.9 1.9 0.4zM794.6 531l0.7-0.5 1.1 0 0.8 0.5 0.3 1 -1.1 1 -1.1 0.1 -0.9-1.1z"/><path fill="#2effd1" d="M790.8 467.5l0.5-0.3 3 4.9 0.5 0.1 2-0.6 2.1 1.4 4.9 1.1 1.5 0.7 2.5 7.2 -0.1 1 -0.4 0.1 -0.5-0.3 -2.8-5.3 -0.7-0.8 -5-0.4 -4.1-0.8 -2.3-2.5zM860.4 511l-0.6 1 -2.5 1.7 -1.6 0.3 -1.1-0.5 0.7-1.7 2-1.3 1.5-0.2z"/><path fill="#57ffa8" d="M794.2 474l1.1-0.6 1.5-0.1 7.5 1.3 1.2 1.4 1 4.5 -2.3-3.5 -0.9-0.8 -8-0.6 -1-0.6zM859 511.5l-1.7 1.5 -1.5 0 0.2-1 0.8-0.6 1.5-0.4z"/><path fill="#80ff80" d="M794.8 474.5l0.5-0.4 1-0.1 5.5 0.5 2.3 0.5 0.7 1.2 -2-0.5 -7-0.4 -0.9-0.3z"/></g><path d="M820.3 468.5h56v42h-56v-7h49v-28h-49z" fill="none" stroke="#000" stroke-width="2"/><path d="M820.3 468.5h56v42h-56v-7h49v-28h-49z" fill="none" stroke="#fff" stroke-width="1.5" stroke-dasharray="4.6 2.5"/>
<path d="M708.3 629.5v-280.0h280.0" fill="none" stroke="#d8d8d0" stroke-width="0.6"/>
<path d="M708.0 629.5h280.3v-280.3" fill="none" stroke="#2a2a30" stroke-width="0.9"/>
<path d="M778.3 629.5v-3M778.3 349.5v3M708.3 559.5h3M988.3 559.5h-3M848.3 629.5v-3M848.3 349.5v3M708.3 489.5h3M988.3 489.5h-3M918.3 629.5v-3M918.3 349.5v3M708.3 419.5h3M988.3 419.5h-3" stroke="#262626" stroke-width="1" fill="none"/>
<text class="t" transform="translate(707.3 651.5) scale(1.000 1.100)" text-anchor="middle">-20</text>
<text class="t" transform="translate(702.3 634.7) scale(1.000 1.100)" text-anchor="end">-20</text>
<text class="t" transform="translate(777.3 651.5) scale(1.000 1.100)" text-anchor="middle">-10</text>
<text class="t" transform="translate(702.3 564.7) scale(1.000 1.100)" text-anchor="end">-10</text>
<text class="t" transform="translate(848.3 651.5) scale(1.000 1.100)" text-anchor="middle">0</text>
<text class="t" transform="translate(702.3 494.7) scale(1.000 1.100)" text-anchor="end">0</text>
<text class="t" transform="translate(918.3 651.5) scale(1.000 1.100)" text-anchor="middle">10</text>
<text class="t" transform="translate(702.3 424.7) scale(1.000 1.100)" text-anchor="end">10</text>
<text class="t" transform="translate(988.3 651.5) scale(1.000 1.100)" text-anchor="middle">20</text>
<text class="t" transform="translate(702.3 354.7) scale(1.000 1.100)" text-anchor="end">20</text>
<text class="l" transform="translate(847.6 674.7) scale(1.000 1.060)" text-anchor="middle">x (cm)</text>
<text class="l" transform="translate(678.3 490.2) rotate(-90) scale(1.000 1.060)" text-anchor="middle">y (cm)</text>
<text class="p" transform="translate(714.7 378.4)" text-anchor="start">(f)</text>
</g>
<rect x="361.0" y="698.0" width="308.0" height="20.5" fill="url(#cb)"/>
<rect x="361.0" y="698.0" width="308.0" height="20.5" fill="none" stroke="#444" stroke-width="1"/>
<path d="M412.3 718.5v-3M463.7 718.5v-3M515.0 718.5v-3M566.3 718.5v-3M617.7 718.5v-3" stroke="#262626" stroke-width="1" fill="none"/>
<text class="t" transform="translate(361.0 735.5) scale(1.000 1.100)" text-anchor="middle">0</text>
<text class="t" transform="translate(409.8 735.5) scale(1.000 1.100)" text-anchor="middle">-2</text>
<text class="t" transform="translate(461.2 735.5) scale(1.000 1.100)" text-anchor="middle">-4</text>
<text class="t" transform="translate(512.5 735.5) scale(1.000 1.100)" text-anchor="middle">-6</text>
<text class="t" transform="translate(563.8 735.5) scale(1.000 1.100)" text-anchor="middle">-8</text>
<text class="t" transform="translate(615.2 735.5) scale(1.000 1.100)" text-anchor="middle">-10</text>
<text class="t" transform="translate(666.5 735.5) scale(1.000 1.100)" text-anchor="middle">-12</text>
<text class="l" transform="translate(515.0 751.2) scale(1.000 1.060)" text-anchor="middle" style="font-size:19px">(dB)</text>
</svg></body></html>
